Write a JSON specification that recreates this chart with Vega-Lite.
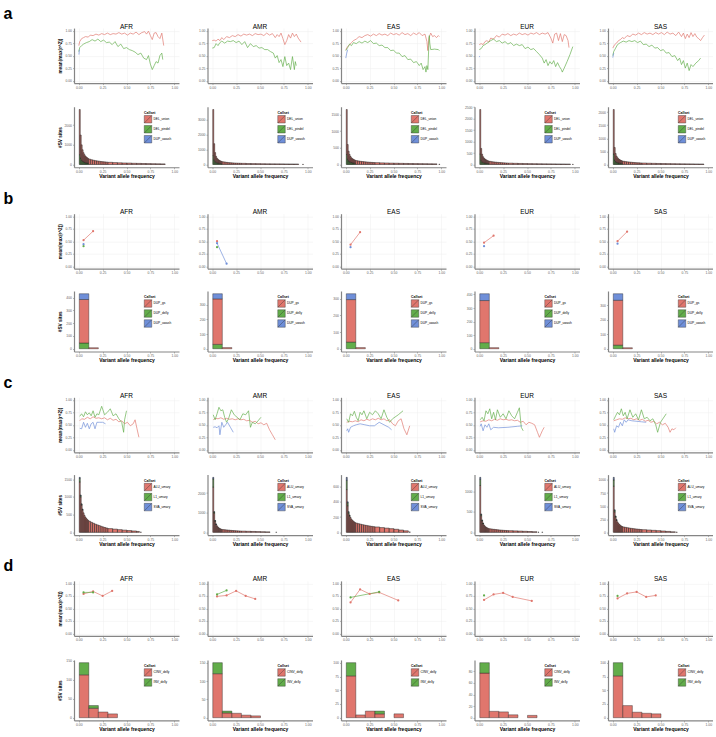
{
"$schema":"https://vega.github.io/schema/vega-lite/v6.json",
"background":"white",
"padding":{"left":3,"top":5.1,"right":0,"bottom":0},
"autosize":{"type":"pad"},
"config":{
"font":"Liberation Sans",
"view":{"stroke":null,"continuousWidth":105,"continuousHeight":55},
"title":{"fontSize":6.5,"fontWeight":"normal","offset":-2,"color":"#000"},
"axis":{"grid":false,"labelFontSize":3.4,"labelColor":"#666","titleFontSize":4.7,"titleFontWeight":"bold","titleColor":"#000","domainColor":"#858585","domainWidth":1.2,"tickColor":"#858585","tickSize":1.5,"tickWidth":0.6,"labelPadding":1,"gridColor":"#EEEEEE","gridWidth":0.5,"labelFlush":false,"labelOverlap":false},
"axisX":{"labelPadding":0.5,"titlePadding":0,"titleFontSize":5,"minExtent":6,"maxExtent":6},
"axisY":{"titlePadding":1.35,"minExtent":10.5,"maxExtent":10.5},
"legend":{"orient":"none","legendX":70,"legendY":4,"titleFontSize":3.5,"titleFontWeight":"bold","titleColor":"#000","labelFontSize":3.2,"labelColor":"#000","symbolSize":56,"symbolType":"M-1,-1H1V1H-1Z M-1,1L1,-1","symbolStrokeWidth":0.4,"symbolStrokeColor":"#333","rowPadding":0,"padding":0,"titlePadding":1,"labelOffset":1.5,"symbolOpacity":1},
"bar":{"binSpacing":0,"stroke":"#222","strokeWidth":0.4},
"line":{"strokeWidth":0.8,"opacity":0.85},
"point":{"filled":true,"size":5},
"range":{"category":["#E0766D","#62AD4A","#6F8FD9"]}
},
"datasets":{
"aAFRl":[
{"c":"DEL_union","x":0,"y":0.7},{"c":"DEL_union","x":0.01,"y":0.78},{"c":"DEL_union","x":0.03,"y":0.84},{"c":"DEL_union","x":0.05,"y":0.86},{"c":"DEL_union","x":0.07,"y":0.88},{"c":"DEL_union","x":0.1,"y":0.87},{"c":"DEL_union","x":0.12,"y":0.91},{"c":"DEL_union","x":0.15,"y":0.9},{"c":"DEL_union","x":0.18,"y":0.93},{"c":"DEL_union","x":0.21,"y":0.91},{"c":"DEL_union","x":0.24,"y":0.94},{"c":"DEL_union","x":0.27,"y":0.92},{"c":"DEL_union","x":0.3,"y":0.95},{"c":"DEL_union","x":0.33,"y":0.92},{"c":"DEL_union","x":0.36,"y":0.94},{"c":"DEL_union","x":0.39,"y":0.93},{"c":"DEL_union","x":0.42,"y":0.96},{"c":"DEL_union","x":0.45,"y":0.93},{"c":"DEL_union","x":0.48,"y":0.95},{"c":"DEL_union","x":0.51,"y":0.91},{"c":"DEL_union","x":0.54,"y":0.95},{"c":"DEL_union","x":0.57,"y":0.93},{"c":"DEL_union","x":0.6,"y":0.97},{"c":"DEL_union","x":0.63,"y":0.92},{"c":"DEL_union","x":0.66,"y":0.96},{"c":"DEL_union","x":0.69,"y":0.98},{"c":"DEL_union","x":0.71,"y":0.93},{"c":"DEL_union","x":0.73,"y":0.99},{"c":"DEL_union","x":0.75,"y":0.9},{"c":"DEL_union","x":0.77,"y":0.82},{"c":"DEL_union","x":0.79,"y":0.95},{"c":"DEL_union","x":0.81,"y":0.96},{"c":"DEL_union","x":0.83,"y":0.88},{"c":"DEL_union","x":0.85,"y":0.84},{"c":"DEL_union","x":0.87,"y":0.95},{"c":"DEL_union","x":0.89,"y":0.7},
{"c":"DEL_pindel","x":0,"y":0.58},{"c":"DEL_pindel","x":0.01,"y":0.66},{"c":"DEL_pindel","x":0.03,"y":0.7},{"c":"DEL_pindel","x":0.05,"y":0.73},{"c":"DEL_pindel","x":0.08,"y":0.76},{"c":"DEL_pindel","x":0.11,"y":0.78},{"c":"DEL_pindel","x":0.14,"y":0.82},{"c":"DEL_pindel","x":0.17,"y":0.79},{"c":"DEL_pindel","x":0.2,"y":0.83},{"c":"DEL_pindel","x":0.23,"y":0.78},{"c":"DEL_pindel","x":0.26,"y":0.81},{"c":"DEL_pindel","x":0.29,"y":0.76},{"c":"DEL_pindel","x":0.32,"y":0.77},{"c":"DEL_pindel","x":0.35,"y":0.72},{"c":"DEL_pindel","x":0.38,"y":0.78},{"c":"DEL_pindel","x":0.41,"y":0.68},{"c":"DEL_pindel","x":0.44,"y":0.73},{"c":"DEL_pindel","x":0.47,"y":0.64},{"c":"DEL_pindel","x":0.5,"y":0.66},{"c":"DEL_pindel","x":0.53,"y":0.62},{"c":"DEL_pindel","x":0.56,"y":0.6},{"c":"DEL_pindel","x":0.59,"y":0.57},{"c":"DEL_pindel","x":0.62,"y":0.52},{"c":"DEL_pindel","x":0.65,"y":0.55},{"c":"DEL_pindel","x":0.68,"y":0.45},{"c":"DEL_pindel","x":0.71,"y":0.42},{"c":"DEL_pindel","x":0.73,"y":0.5},{"c":"DEL_pindel","x":0.75,"y":0.33},{"c":"DEL_pindel","x":0.77,"y":0.22},{"c":"DEL_pindel","x":0.79,"y":0.3},{"c":"DEL_pindel","x":0.81,"y":0.38},{"c":"DEL_pindel","x":0.83,"y":0.35},{"c":"DEL_pindel","x":0.85,"y":0.5},{"c":"DEL_pindel","x":0.87,"y":0.55},{"c":"DEL_pindel","x":0.88,"y":0.42},
{"c":"DUP_uwash","x":0.002,"y":0.52},{"c":"DUP_uwash","x":0.006,"y":0.62}],
"aAMRl":[
{"c":"DEL_union","x":0,"y":0.8},{"c":"DEL_union","x":0.02,"y":0.81},{"c":"DEL_union","x":0.04,"y":0.79},{"c":"DEL_union","x":0.06,"y":0.83},{"c":"DEL_union","x":0.08,"y":0.8},{"c":"DEL_union","x":0.1,"y":0.86},{"c":"DEL_union","x":0.12,"y":0.82},{"c":"DEL_union","x":0.15,"y":0.88},{"c":"DEL_union","x":0.18,"y":0.86},{"c":"DEL_union","x":0.21,"y":0.9},{"c":"DEL_union","x":0.24,"y":0.88},{"c":"DEL_union","x":0.27,"y":0.92},{"c":"DEL_union","x":0.3,"y":0.89},{"c":"DEL_union","x":0.33,"y":0.93},{"c":"DEL_union","x":0.36,"y":0.91},{"c":"DEL_union","x":0.39,"y":0.93},{"c":"DEL_union","x":0.42,"y":0.9},{"c":"DEL_union","x":0.45,"y":0.94},{"c":"DEL_union","x":0.48,"y":0.92},{"c":"DEL_union","x":0.51,"y":0.93},{"c":"DEL_union","x":0.54,"y":0.9},{"c":"DEL_union","x":0.57,"y":0.95},{"c":"DEL_union","x":0.6,"y":0.91},{"c":"DEL_union","x":0.63,"y":0.94},{"c":"DEL_union","x":0.66,"y":0.86},{"c":"DEL_union","x":0.68,"y":0.92},{"c":"DEL_union","x":0.7,"y":0.88},{"c":"DEL_union","x":0.72,"y":0.95},{"c":"DEL_union","x":0.74,"y":0.84},{"c":"DEL_union","x":0.76,"y":0.72},{"c":"DEL_union","x":0.78,"y":0.8},{"c":"DEL_union","x":0.8,"y":0.92},{"c":"DEL_union","x":0.82,"y":0.85},{"c":"DEL_union","x":0.84,"y":0.95},{"c":"DEL_union","x":0.86,"y":0.88},{"c":"DEL_union","x":0.88,"y":0.93},{"c":"DEL_union","x":0.9,"y":0.85},{"c":"DEL_union","x":0.93,"y":0.77},
{"c":"DEL_pindel","x":0,"y":0.65},{"c":"DEL_pindel","x":0.02,"y":0.66},{"c":"DEL_pindel","x":0.04,"y":0.74},{"c":"DEL_pindel","x":0.06,"y":0.7},{"c":"DEL_pindel","x":0.08,"y":0.76},{"c":"DEL_pindel","x":0.1,"y":0.79},{"c":"DEL_pindel","x":0.13,"y":0.75},{"c":"DEL_pindel","x":0.16,"y":0.79},{"c":"DEL_pindel","x":0.19,"y":0.78},{"c":"DEL_pindel","x":0.22,"y":0.8},{"c":"DEL_pindel","x":0.25,"y":0.76},{"c":"DEL_pindel","x":0.28,"y":0.79},{"c":"DEL_pindel","x":0.31,"y":0.72},{"c":"DEL_pindel","x":0.34,"y":0.78},{"c":"DEL_pindel","x":0.37,"y":0.66},{"c":"DEL_pindel","x":0.4,"y":0.74},{"c":"DEL_pindel","x":0.43,"y":0.68},{"c":"DEL_pindel","x":0.46,"y":0.7},{"c":"DEL_pindel","x":0.49,"y":0.65},{"c":"DEL_pindel","x":0.52,"y":0.66},{"c":"DEL_pindel","x":0.55,"y":0.62},{"c":"DEL_pindel","x":0.58,"y":0.62},{"c":"DEL_pindel","x":0.61,"y":0.58},{"c":"DEL_pindel","x":0.64,"y":0.55},{"c":"DEL_pindel","x":0.66,"y":0.45},{"c":"DEL_pindel","x":0.68,"y":0.5},{"c":"DEL_pindel","x":0.7,"y":0.36},{"c":"DEL_pindel","x":0.72,"y":0.42},{"c":"DEL_pindel","x":0.74,"y":0.28},{"c":"DEL_pindel","x":0.76,"y":0.48},{"c":"DEL_pindel","x":0.78,"y":0.3},{"c":"DEL_pindel","x":0.8,"y":0.35},{"c":"DEL_pindel","x":0.82,"y":0.22},{"c":"DEL_pindel","x":0.84,"y":0.48},{"c":"DEL_pindel","x":0.86,"y":0.22},{"c":"DEL_pindel","x":0.87,"y":0.38},{"c":"DEL_pindel","x":0.88,"y":0.3}],
"aEASl":[
{"c":"DEL_union","x":0,"y":0.62},{"c":"DEL_union","x":0.02,"y":0.68},{"c":"DEL_union","x":0.04,"y":0.72},{"c":"DEL_union","x":0.06,"y":0.76},{"c":"DEL_union","x":0.08,"y":0.8},{"c":"DEL_union","x":0.11,"y":0.83},{"c":"DEL_union","x":0.14,"y":0.88},{"c":"DEL_union","x":0.17,"y":0.86},{"c":"DEL_union","x":0.2,"y":0.9},{"c":"DEL_union","x":0.23,"y":0.92},{"c":"DEL_union","x":0.26,"y":0.89},{"c":"DEL_union","x":0.29,"y":0.93},{"c":"DEL_union","x":0.32,"y":0.9},{"c":"DEL_union","x":0.35,"y":0.94},{"c":"DEL_union","x":0.38,"y":0.91},{"c":"DEL_union","x":0.41,"y":0.93},{"c":"DEL_union","x":0.44,"y":0.9},{"c":"DEL_union","x":0.47,"y":0.95},{"c":"DEL_union","x":0.5,"y":0.92},{"c":"DEL_union","x":0.53,"y":0.94},{"c":"DEL_union","x":0.56,"y":0.91},{"c":"DEL_union","x":0.59,"y":0.96},{"c":"DEL_union","x":0.62,"y":0.92},{"c":"DEL_union","x":0.65,"y":0.94},{"c":"DEL_union","x":0.68,"y":0.9},{"c":"DEL_union","x":0.71,"y":0.95},{"c":"DEL_union","x":0.74,"y":0.92},{"c":"DEL_union","x":0.77,"y":0.96},{"c":"DEL_union","x":0.8,"y":0.9},{"c":"DEL_union","x":0.83,"y":0.93},{"c":"DEL_union","x":0.85,"y":0.78},{"c":"DEL_union","x":0.86,"y":0.6},{"c":"DEL_union","x":0.87,"y":0.85},{"c":"DEL_union","x":0.89,"y":0.95},{"c":"DEL_union","x":0.91,"y":0.88},{"c":"DEL_union","x":0.93,"y":0.9},{"c":"DEL_union","x":0.95,"y":0.86},{"c":"DEL_union","x":0.97,"y":0.9},{"c":"DEL_union","x":0.98,"y":0.88},
{"c":"DEL_pindel","x":0,"y":0.6},{"c":"DEL_pindel","x":0.02,"y":0.66},{"c":"DEL_pindel","x":0.04,"y":0.73},{"c":"DEL_pindel","x":0.06,"y":0.7},{"c":"DEL_pindel","x":0.08,"y":0.76},{"c":"DEL_pindel","x":0.11,"y":0.74},{"c":"DEL_pindel","x":0.14,"y":0.78},{"c":"DEL_pindel","x":0.17,"y":0.75},{"c":"DEL_pindel","x":0.2,"y":0.79},{"c":"DEL_pindel","x":0.23,"y":0.76},{"c":"DEL_pindel","x":0.26,"y":0.8},{"c":"DEL_pindel","x":0.29,"y":0.74},{"c":"DEL_pindel","x":0.32,"y":0.75},{"c":"DEL_pindel","x":0.35,"y":0.7},{"c":"DEL_pindel","x":0.38,"y":0.71},{"c":"DEL_pindel","x":0.41,"y":0.66},{"c":"DEL_pindel","x":0.44,"y":0.66},{"c":"DEL_pindel","x":0.47,"y":0.6},{"c":"DEL_pindel","x":0.5,"y":0.61},{"c":"DEL_pindel","x":0.53,"y":0.55},{"c":"DEL_pindel","x":0.56,"y":0.55},{"c":"DEL_pindel","x":0.59,"y":0.48},{"c":"DEL_pindel","x":0.62,"y":0.5},{"c":"DEL_pindel","x":0.65,"y":0.42},{"c":"DEL_pindel","x":0.68,"y":0.43},{"c":"DEL_pindel","x":0.71,"y":0.36},{"c":"DEL_pindel","x":0.74,"y":0.38},{"c":"DEL_pindel","x":0.77,"y":0.3},{"c":"DEL_pindel","x":0.79,"y":0.35},{"c":"DEL_pindel","x":0.81,"y":0.22},{"c":"DEL_pindel","x":0.83,"y":0.28},{"c":"DEL_pindel","x":0.84,"y":0.17},{"c":"DEL_pindel","x":0.85,"y":0.3},{"c":"DEL_pindel","x":0.86,"y":0.22},{"c":"DEL_pindel","x":0.87,"y":0.7},{"c":"DEL_pindel","x":0.875,"y":0.9},{"c":"DEL_pindel","x":0.88,"y":0.75},{"c":"DEL_pindel","x":0.89,"y":0.62},{"c":"DEL_pindel","x":0.93,"y":0.63},{"c":"DEL_pindel","x":0.97,"y":0.62},{"c":"DEL_pindel","x":0.98,"y":0.6},
{"c":"DUP_uwash","x":0,"y":0.45},{"c":"DUP_uwash","x":0.01,"y":0.55},{"c":"DUP_uwash","x":0.02,"y":0.62}],
"aEURl":[
{"c":"DEL_union","x":0,"y":0.72},{"c":"DEL_union","x":0.02,"y":0.74},{"c":"DEL_union","x":0.04,"y":0.72},{"c":"DEL_union","x":0.06,"y":0.78},{"c":"DEL_union","x":0.08,"y":0.8},{"c":"DEL_union","x":0.1,"y":0.77},{"c":"DEL_union","x":0.12,"y":0.85},{"c":"DEL_union","x":0.15,"y":0.83},{"c":"DEL_union","x":0.18,"y":0.9},{"c":"DEL_union","x":0.21,"y":0.87},{"c":"DEL_union","x":0.24,"y":0.93},{"c":"DEL_union","x":0.27,"y":0.91},{"c":"DEL_union","x":0.3,"y":0.94},{"c":"DEL_union","x":0.33,"y":0.9},{"c":"DEL_union","x":0.36,"y":0.93},{"c":"DEL_union","x":0.39,"y":0.91},{"c":"DEL_union","x":0.42,"y":0.95},{"c":"DEL_union","x":0.45,"y":0.92},{"c":"DEL_union","x":0.48,"y":0.94},{"c":"DEL_union","x":0.51,"y":0.91},{"c":"DEL_union","x":0.54,"y":0.95},{"c":"DEL_union","x":0.57,"y":0.93},{"c":"DEL_union","x":0.6,"y":0.96},{"c":"DEL_union","x":0.63,"y":0.92},{"c":"DEL_union","x":0.66,"y":0.95},{"c":"DEL_union","x":0.69,"y":0.93},{"c":"DEL_union","x":0.72,"y":0.96},{"c":"DEL_union","x":0.75,"y":0.85},{"c":"DEL_union","x":0.77,"y":0.75},{"c":"DEL_union","x":0.79,"y":0.93},{"c":"DEL_union","x":0.81,"y":0.95},{"c":"DEL_union","x":0.83,"y":0.8},{"c":"DEL_union","x":0.85,"y":0.94},{"c":"DEL_union","x":0.87,"y":0.78},{"c":"DEL_union","x":0.89,"y":0.92},{"c":"DEL_union","x":0.91,"y":0.9},{"c":"DEL_union","x":0.93,"y":0.8},{"c":"DEL_union","x":0.94,"y":0.66},
{"c":"DEL_pindel","x":0,"y":0.62},{"c":"DEL_pindel","x":0.02,"y":0.64},{"c":"DEL_pindel","x":0.04,"y":0.7},{"c":"DEL_pindel","x":0.06,"y":0.72},{"c":"DEL_pindel","x":0.09,"y":0.76},{"c":"DEL_pindel","x":0.12,"y":0.8},{"c":"DEL_pindel","x":0.15,"y":0.83},{"c":"DEL_pindel","x":0.18,"y":0.78},{"c":"DEL_pindel","x":0.21,"y":0.8},{"c":"DEL_pindel","x":0.24,"y":0.75},{"c":"DEL_pindel","x":0.27,"y":0.78},{"c":"DEL_pindel","x":0.3,"y":0.73},{"c":"DEL_pindel","x":0.33,"y":0.76},{"c":"DEL_pindel","x":0.36,"y":0.7},{"c":"DEL_pindel","x":0.39,"y":0.73},{"c":"DEL_pindel","x":0.42,"y":0.7},{"c":"DEL_pindel","x":0.45,"y":0.72},{"c":"DEL_pindel","x":0.48,"y":0.64},{"c":"DEL_pindel","x":0.51,"y":0.67},{"c":"DEL_pindel","x":0.54,"y":0.62},{"c":"DEL_pindel","x":0.57,"y":0.64},{"c":"DEL_pindel","x":0.6,"y":0.58},{"c":"DEL_pindel","x":0.63,"y":0.52},{"c":"DEL_pindel","x":0.66,"y":0.45},{"c":"DEL_pindel","x":0.68,"y":0.35},{"c":"DEL_pindel","x":0.7,"y":0.42},{"c":"DEL_pindel","x":0.72,"y":0.3},{"c":"DEL_pindel","x":0.74,"y":0.38},{"c":"DEL_pindel","x":0.76,"y":0.33},{"c":"DEL_pindel","x":0.78,"y":0.4},{"c":"DEL_pindel","x":0.8,"y":0.28},{"c":"DEL_pindel","x":0.82,"y":0.36},{"c":"DEL_pindel","x":0.84,"y":0.28},{"c":"DEL_pindel","x":0.86,"y":0.22},{"c":"DEL_pindel","x":0.87,"y":0.17},{"c":"DEL_pindel","x":0.89,"y":0.25},{"c":"DEL_pindel","x":0.92,"y":0.38},{"c":"DEL_pindel","x":0.95,"y":0.52},{"c":"DEL_pindel","x":0.98,"y":0.68},
{"c":"DUP_uwash","x":0,"y":0.47},{"c":"DUP_uwash","x":0.005,"y":0.49}],
"aSASl":[
{"c":"DEL_union","x":0,"y":0.65},{"c":"DEL_union","x":0.02,"y":0.72},{"c":"DEL_union","x":0.04,"y":0.75},{"c":"DEL_union","x":0.06,"y":0.8},{"c":"DEL_union","x":0.08,"y":0.82},{"c":"DEL_union","x":0.1,"y":0.86},{"c":"DEL_union","x":0.12,"y":0.84},{"c":"DEL_union","x":0.15,"y":0.9},{"c":"DEL_union","x":0.18,"y":0.88},{"c":"DEL_union","x":0.21,"y":0.93},{"c":"DEL_union","x":0.24,"y":0.91},{"c":"DEL_union","x":0.27,"y":0.95},{"c":"DEL_union","x":0.3,"y":0.92},{"c":"DEL_union","x":0.33,"y":0.96},{"c":"DEL_union","x":0.36,"y":0.93},{"c":"DEL_union","x":0.39,"y":0.95},{"c":"DEL_union","x":0.42,"y":0.92},{"c":"DEL_union","x":0.45,"y":0.96},{"c":"DEL_union","x":0.48,"y":0.93},{"c":"DEL_union","x":0.51,"y":0.96},{"c":"DEL_union","x":0.54,"y":0.92},{"c":"DEL_union","x":0.57,"y":0.97},{"c":"DEL_union","x":0.6,"y":0.93},{"c":"DEL_union","x":0.63,"y":0.95},{"c":"DEL_union","x":0.66,"y":0.9},{"c":"DEL_union","x":0.69,"y":0.97},{"c":"DEL_union","x":0.72,"y":0.88},{"c":"DEL_union","x":0.74,"y":0.95},{"c":"DEL_union","x":0.76,"y":0.84},{"c":"DEL_union","x":0.78,"y":0.93},{"c":"DEL_union","x":0.8,"y":0.86},{"c":"DEL_union","x":0.82,"y":0.96},{"c":"DEL_union","x":0.84,"y":0.88},{"c":"DEL_union","x":0.86,"y":0.94},{"c":"DEL_union","x":0.88,"y":0.87},{"c":"DEL_union","x":0.9,"y":0.84},{"c":"DEL_union","x":0.92,"y":0.8},{"c":"DEL_union","x":0.94,"y":0.86},{"c":"DEL_union","x":0.96,"y":0.91},
{"c":"DEL_pindel","x":0,"y":0.5},{"c":"DEL_pindel","x":0.01,"y":0.58},{"c":"DEL_pindel","x":0.03,"y":0.65},{"c":"DEL_pindel","x":0.05,"y":0.72},{"c":"DEL_pindel","x":0.08,"y":0.76},{"c":"DEL_pindel","x":0.11,"y":0.79},{"c":"DEL_pindel","x":0.14,"y":0.77},{"c":"DEL_pindel","x":0.17,"y":0.8},{"c":"DEL_pindel","x":0.2,"y":0.78},{"c":"DEL_pindel","x":0.23,"y":0.8},{"c":"DEL_pindel","x":0.26,"y":0.76},{"c":"DEL_pindel","x":0.29,"y":0.79},{"c":"DEL_pindel","x":0.32,"y":0.72},{"c":"DEL_pindel","x":0.35,"y":0.73},{"c":"DEL_pindel","x":0.38,"y":0.68},{"c":"DEL_pindel","x":0.41,"y":0.71},{"c":"DEL_pindel","x":0.44,"y":0.65},{"c":"DEL_pindel","x":0.47,"y":0.66},{"c":"DEL_pindel","x":0.5,"y":0.6},{"c":"DEL_pindel","x":0.53,"y":0.62},{"c":"DEL_pindel","x":0.56,"y":0.55},{"c":"DEL_pindel","x":0.59,"y":0.56},{"c":"DEL_pindel","x":0.62,"y":0.48},{"c":"DEL_pindel","x":0.65,"y":0.5},{"c":"DEL_pindel","x":0.68,"y":0.4},{"c":"DEL_pindel","x":0.7,"y":0.45},{"c":"DEL_pindel","x":0.72,"y":0.32},{"c":"DEL_pindel","x":0.74,"y":0.4},{"c":"DEL_pindel","x":0.76,"y":0.25},{"c":"DEL_pindel","x":0.78,"y":0.35},{"c":"DEL_pindel","x":0.8,"y":0.2},{"c":"DEL_pindel","x":0.82,"y":0.32},{"c":"DEL_pindel","x":0.84,"y":0.28},{"c":"DEL_pindel","x":0.87,"y":0.35},{"c":"DEL_pindel","x":0.9,"y":0.4},{"c":"DEL_pindel","x":0.92,"y":0.45},
{"c":"DUP_uwash","x":0,"y":0.46},{"c":"DUP_uwash","x":0.01,"y":0.55}],
"aAFRh":[
{"c":"DEL_pindel","x":0,"x2":0.01,"n":500},{"c":"DEL_pindel","x":0.01,"x2":0.02,"n":330},{"c":"DEL_pindel","x":0.02,"x2":0.03,"n":220},{"c":"DEL_pindel","x":0.03,"x2":0.04,"n":170},{"c":"DEL_pindel","x":0.04,"x2":0.05,"n":140},{"c":"DEL_pindel","x":0.05,"x2":0.06,"n":110},{"c":"DEL_pindel","x":0.06,"x2":0.07,"n":90},{"c":"DEL_pindel","x":0.07,"x2":0.08,"n":80},{"c":"DEL_pindel","x":0.08,"x2":0.09,"n":70},{"c":"DEL_pindel","x":0.09,"x2":0.1,"n":60},
{"c":"DEL_union","x":0,"x2":0.01,"n":2300},{"c":"DEL_union","x":0.01,"x2":0.02,"n":1170},{"c":"DEL_union","x":0.02,"x2":0.03,"n":780},{"c":"DEL_union","x":0.03,"x2":0.04,"n":580},{"c":"DEL_union","x":0.04,"x2":0.05,"n":460},{"c":"DEL_union","x":0.05,"x2":0.06,"n":390},{"c":"DEL_union","x":0.06,"x2":0.07,"n":340},{"c":"DEL_union","x":0.07,"x2":0.08,"n":300},{"c":"DEL_union","x":0.08,"x2":0.09,"n":270},{"c":"DEL_union","x":0.09,"x2":0.1,"n":240},
{"c":"DEL_union","x":0.1,"x2":0.12,"n":270},{"c":"DEL_union","x":0.12,"x2":0.14,"n":240},{"c":"DEL_union","x":0.14,"x2":0.16,"n":215},{"c":"DEL_union","x":0.16,"x2":0.18,"n":195},{"c":"DEL_union","x":0.18,"x2":0.2,"n":180},{"c":"DEL_union","x":0.2,"x2":0.22,"n":165},{"c":"DEL_union","x":0.22,"x2":0.24,"n":150},{"c":"DEL_union","x":0.24,"x2":0.26,"n":140},{"c":"DEL_union","x":0.26,"x2":0.28,"n":130},{"c":"DEL_union","x":0.28,"x2":0.3,"n":120},
{"c":"DEL_union","x":0.3,"x2":0.35,"n":110},{"c":"DEL_union","x":0.35,"x2":0.4,"n":95},{"c":"DEL_union","x":0.4,"x2":0.45,"n":85},{"c":"DEL_union","x":0.45,"x2":0.5,"n":75},{"c":"DEL_union","x":0.5,"x2":0.55,"n":70},{"c":"DEL_union","x":0.55,"x2":0.6,"n":60},{"c":"DEL_union","x":0.6,"x2":0.65,"n":55},{"c":"DEL_union","x":0.65,"x2":0.7,"n":50},{"c":"DEL_union","x":0.7,"x2":0.75,"n":45},{"c":"DEL_union","x":0.75,"x2":0.8,"n":40},{"c":"DEL_union","x":0.8,"x2":0.85,"n":35},{"c":"DEL_union","x":0.85,"x2":0.9,"n":30}],
"aAMRh":[
{"c":"DEL_pindel","x":0,"x2":0.01,"n":600},{"c":"DEL_pindel","x":0.01,"x2":0.02,"n":300},{"c":"DEL_pindel","x":0.02,"x2":0.03,"n":200},{"c":"DEL_pindel","x":0.03,"x2":0.04,"n":150},{"c":"DEL_pindel","x":0.04,"x2":0.05,"n":120},{"c":"DEL_pindel","x":0.05,"x2":0.06,"n":100},{"c":"DEL_pindel","x":0.06,"x2":0.07,"n":80},{"c":"DEL_pindel","x":0.07,"x2":0.08,"n":70},{"c":"DEL_pindel","x":0.08,"x2":0.09,"n":60},{"c":"DEL_pindel","x":0.09,"x2":0.1,"n":50},
{"c":"DEL_union","x":0,"x2":0.01,"n":3100},{"c":"DEL_union","x":0.01,"x2":0.02,"n":1100},{"c":"DEL_union","x":0.02,"x2":0.03,"n":600},{"c":"DEL_union","x":0.03,"x2":0.04,"n":400},{"c":"DEL_union","x":0.04,"x2":0.05,"n":300},{"c":"DEL_union","x":0.05,"x2":0.06,"n":250},{"c":"DEL_union","x":0.06,"x2":0.07,"n":220},{"c":"DEL_union","x":0.07,"x2":0.08,"n":190},{"c":"DEL_union","x":0.08,"x2":0.09,"n":170},{"c":"DEL_union","x":0.09,"x2":0.1,"n":150},
{"c":"DEL_union","x":0.1,"x2":0.12,"n":180},{"c":"DEL_union","x":0.12,"x2":0.14,"n":160},{"c":"DEL_union","x":0.14,"x2":0.16,"n":140},{"c":"DEL_union","x":0.16,"x2":0.18,"n":125},{"c":"DEL_union","x":0.18,"x2":0.2,"n":115},{"c":"DEL_union","x":0.2,"x2":0.22,"n":105},{"c":"DEL_union","x":0.22,"x2":0.24,"n":95},{"c":"DEL_union","x":0.24,"x2":0.26,"n":90},{"c":"DEL_union","x":0.26,"x2":0.28,"n":85},{"c":"DEL_union","x":0.28,"x2":0.3,"n":80},
{"c":"DEL_union","x":0.3,"x2":0.35,"n":75},{"c":"DEL_union","x":0.35,"x2":0.4,"n":65},{"c":"DEL_union","x":0.4,"x2":0.45,"n":60},{"c":"DEL_union","x":0.45,"x2":0.5,"n":55},{"c":"DEL_union","x":0.5,"x2":0.55,"n":50},{"c":"DEL_union","x":0.55,"x2":0.6,"n":45},{"c":"DEL_union","x":0.6,"x2":0.65,"n":42},{"c":"DEL_union","x":0.65,"x2":0.7,"n":40},{"c":"DEL_union","x":0.7,"x2":0.75,"n":38},{"c":"DEL_union","x":0.75,"x2":0.8,"n":35},{"c":"DEL_union","x":0.8,"x2":0.85,"n":32},{"c":"DEL_union","x":0.85,"x2":0.9,"n":30},{"c":"DEL_union","x":0.94,"x2":0.95,"n":10}],
"aEASh":[
{"c":"DEL_pindel","x":0,"x2":0.01,"n":300},{"c":"DEL_pindel","x":0.01,"x2":0.02,"n":160},{"c":"DEL_pindel","x":0.02,"x2":0.03,"n":110},{"c":"DEL_pindel","x":0.03,"x2":0.04,"n":85},{"c":"DEL_pindel","x":0.04,"x2":0.05,"n":70},{"c":"DEL_pindel","x":0.05,"x2":0.06,"n":60},{"c":"DEL_pindel","x":0.06,"x2":0.07,"n":50},{"c":"DEL_pindel","x":0.07,"x2":0.08,"n":45},{"c":"DEL_pindel","x":0.08,"x2":0.09,"n":40},{"c":"DEL_pindel","x":0.09,"x2":0.1,"n":35},
{"c":"DEL_union","x":0,"x2":0.01,"n":1350},{"c":"DEL_union","x":0.01,"x2":0.02,"n":440},{"c":"DEL_union","x":0.02,"x2":0.03,"n":290},{"c":"DEL_union","x":0.03,"x2":0.04,"n":215},{"c":"DEL_union","x":0.04,"x2":0.05,"n":170},{"c":"DEL_union","x":0.05,"x2":0.06,"n":140},{"c":"DEL_union","x":0.06,"x2":0.07,"n":125},{"c":"DEL_union","x":0.07,"x2":0.08,"n":110},{"c":"DEL_union","x":0.08,"x2":0.09,"n":100},{"c":"DEL_union","x":0.09,"x2":0.1,"n":90},
{"c":"DEL_union","x":0.1,"x2":0.12,"n":115},{"c":"DEL_union","x":0.12,"x2":0.14,"n":105},{"c":"DEL_union","x":0.14,"x2":0.16,"n":95},{"c":"DEL_union","x":0.16,"x2":0.18,"n":88},{"c":"DEL_union","x":0.18,"x2":0.2,"n":82},{"c":"DEL_union","x":0.2,"x2":0.22,"n":76},{"c":"DEL_union","x":0.22,"x2":0.24,"n":70},{"c":"DEL_union","x":0.24,"x2":0.26,"n":66},{"c":"DEL_union","x":0.26,"x2":0.28,"n":62},{"c":"DEL_union","x":0.28,"x2":0.3,"n":58},
{"c":"DEL_union","x":0.3,"x2":0.35,"n":54},{"c":"DEL_union","x":0.35,"x2":0.4,"n":48},{"c":"DEL_union","x":0.4,"x2":0.45,"n":44},{"c":"DEL_union","x":0.45,"x2":0.5,"n":40},{"c":"DEL_union","x":0.5,"x2":0.55,"n":37},{"c":"DEL_union","x":0.55,"x2":0.6,"n":34},{"c":"DEL_union","x":0.6,"x2":0.65,"n":31},{"c":"DEL_union","x":0.65,"x2":0.7,"n":29},{"c":"DEL_union","x":0.7,"x2":0.75,"n":27},{"c":"DEL_union","x":0.75,"x2":0.8,"n":25},{"c":"DEL_union","x":0.8,"x2":0.85,"n":23},{"c":"DEL_union","x":0.85,"x2":0.9,"n":21},{"c":"DEL_union","x":0.9,"x2":0.95,"n":19},{"c":"DEL_union","x":0.97,"x2":0.98,"n":8}],
"aEURh":[
{"c":"DEL_pindel","x":0,"x2":0.01,"n":450},{"c":"DEL_pindel","x":0.01,"x2":0.02,"n":180},{"c":"DEL_pindel","x":0.02,"x2":0.03,"n":120},{"c":"DEL_pindel","x":0.03,"x2":0.04,"n":95},{"c":"DEL_pindel","x":0.04,"x2":0.05,"n":80},{"c":"DEL_pindel","x":0.05,"x2":0.06,"n":65},{"c":"DEL_pindel","x":0.06,"x2":0.07,"n":55},{"c":"DEL_pindel","x":0.07,"x2":0.08,"n":50},{"c":"DEL_pindel","x":0.08,"x2":0.09,"n":45},{"c":"DEL_pindel","x":0.09,"x2":0.1,"n":40},
{"c":"DEL_union","x":0,"x2":0.01,"n":1950},{"c":"DEL_union","x":0.01,"x2":0.02,"n":520},{"c":"DEL_union","x":0.02,"x2":0.03,"n":330},{"c":"DEL_union","x":0.03,"x2":0.04,"n":245},{"c":"DEL_union","x":0.04,"x2":0.05,"n":200},{"c":"DEL_union","x":0.05,"x2":0.06,"n":175},{"c":"DEL_union","x":0.06,"x2":0.07,"n":155},{"c":"DEL_union","x":0.07,"x2":0.08,"n":135},{"c":"DEL_union","x":0.08,"x2":0.09,"n":120},{"c":"DEL_union","x":0.09,"x2":0.1,"n":110},
{"c":"DEL_union","x":0.1,"x2":0.12,"n":135},{"c":"DEL_union","x":0.12,"x2":0.14,"n":120},{"c":"DEL_union","x":0.14,"x2":0.16,"n":110},{"c":"DEL_union","x":0.16,"x2":0.18,"n":100},{"c":"DEL_union","x":0.18,"x2":0.2,"n":92},{"c":"DEL_union","x":0.2,"x2":0.22,"n":85},{"c":"DEL_union","x":0.22,"x2":0.24,"n":78},{"c":"DEL_union","x":0.24,"x2":0.26,"n":72},{"c":"DEL_union","x":0.26,"x2":0.28,"n":67},{"c":"DEL_union","x":0.28,"x2":0.3,"n":62},
{"c":"DEL_union","x":0.3,"x2":0.35,"n":57},{"c":"DEL_union","x":0.35,"x2":0.4,"n":50},{"c":"DEL_union","x":0.4,"x2":0.45,"n":45},{"c":"DEL_union","x":0.45,"x2":0.5,"n":41},{"c":"DEL_union","x":0.5,"x2":0.55,"n":37},{"c":"DEL_union","x":0.55,"x2":0.6,"n":34},{"c":"DEL_union","x":0.6,"x2":0.65,"n":31},{"c":"DEL_union","x":0.65,"x2":0.7,"n":28},{"c":"DEL_union","x":0.7,"x2":0.75,"n":26},{"c":"DEL_union","x":0.75,"x2":0.8,"n":24},{"c":"DEL_union","x":0.8,"x2":0.85,"n":22},{"c":"DEL_union","x":0.85,"x2":0.9,"n":20},{"c":"DEL_union","x":0.9,"x2":0.95,"n":18},{"c":"DEL_union","x":0.97,"x2":0.98,"n":8}],
"aSASh":[
{"c":"DEL_pindel","x":0,"x2":0.01,"n":400},{"c":"DEL_pindel","x":0.01,"x2":0.02,"n":170},{"c":"DEL_pindel","x":0.02,"x2":0.03,"n":110},{"c":"DEL_pindel","x":0.03,"x2":0.04,"n":85},{"c":"DEL_pindel","x":0.04,"x2":0.05,"n":70},{"c":"DEL_pindel","x":0.05,"x2":0.06,"n":60},{"c":"DEL_pindel","x":0.06,"x2":0.07,"n":50},{"c":"DEL_pindel","x":0.07,"x2":0.08,"n":45},{"c":"DEL_pindel","x":0.08,"x2":0.09,"n":40},{"c":"DEL_pindel","x":0.09,"x2":0.1,"n":35},
{"c":"DEL_union","x":0,"x2":0.01,"n":1700},{"c":"DEL_union","x":0.01,"x2":0.02,"n":480},{"c":"DEL_union","x":0.02,"x2":0.03,"n":310},{"c":"DEL_union","x":0.03,"x2":0.04,"n":235},{"c":"DEL_union","x":0.04,"x2":0.05,"n":190},{"c":"DEL_union","x":0.05,"x2":0.06,"n":160},{"c":"DEL_union","x":0.06,"x2":0.07,"n":140},{"c":"DEL_union","x":0.07,"x2":0.08,"n":125},{"c":"DEL_union","x":0.08,"x2":0.09,"n":110},{"c":"DEL_union","x":0.09,"x2":0.1,"n":100},
{"c":"DEL_union","x":0.1,"x2":0.12,"n":122},{"c":"DEL_union","x":0.12,"x2":0.14,"n":110},{"c":"DEL_union","x":0.14,"x2":0.16,"n":100},{"c":"DEL_union","x":0.16,"x2":0.18,"n":92},{"c":"DEL_union","x":0.18,"x2":0.2,"n":85},{"c":"DEL_union","x":0.2,"x2":0.22,"n":78},{"c":"DEL_union","x":0.22,"x2":0.24,"n":72},{"c":"DEL_union","x":0.24,"x2":0.26,"n":66},{"c":"DEL_union","x":0.26,"x2":0.28,"n":62},{"c":"DEL_union","x":0.28,"x2":0.3,"n":58},
{"c":"DEL_union","x":0.3,"x2":0.35,"n":54},{"c":"DEL_union","x":0.35,"x2":0.4,"n":48},{"c":"DEL_union","x":0.4,"x2":0.45,"n":43},{"c":"DEL_union","x":0.45,"x2":0.5,"n":39},{"c":"DEL_union","x":0.5,"x2":0.55,"n":36},{"c":"DEL_union","x":0.55,"x2":0.6,"n":33},{"c":"DEL_union","x":0.6,"x2":0.65,"n":30},{"c":"DEL_union","x":0.65,"x2":0.7,"n":27},{"c":"DEL_union","x":0.7,"x2":0.75,"n":25},{"c":"DEL_union","x":0.75,"x2":0.8,"n":23},{"c":"DEL_union","x":0.8,"x2":0.85,"n":21},{"c":"DEL_union","x":0.85,"x2":0.9,"n":19},{"c":"DEL_union","x":0.9,"x2":0.95,"n":17}],
"bAFRl":[{"c":"DUP_gs","x":0.05,"y":0.52},{"c":"DUP_gs","x":0.15,"y":0.7},{"c":"DUP_delly","x":0.05,"y":0.4},{"c":"DUP_uwash","x":0.05,"y":0.44}],
"bAMRl":[{"c":"DUP_gs","x":0.05,"y":0.5},{"c":"DUP_delly","x":0.05,"y":0.38},{"c":"DUP_uwash","x":0.05,"y":0.46},{"c":"DUP_uwash","x":0.15,"y":0.05}],
"bEASl":[{"c":"DUP_gs","x":0.05,"y":0.43},{"c":"DUP_gs","x":0.15,"y":0.68},{"c":"DUP_uwash","x":0.05,"y":0.38}],
"bEURl":[{"c":"DUP_gs","x":0.05,"y":0.47},{"c":"DUP_gs","x":0.15,"y":0.61},{"c":"DUP_uwash","x":0.05,"y":0.4}],
"bSASl":[{"c":"DUP_gs","x":0.05,"y":0.5},{"c":"DUP_gs","x":0.15,"y":0.69},{"c":"DUP_uwash","x":0.05,"y":0.45}],
"bAFRh":[{"c":"DUP_delly","x":0,"x2":0.1,"n":45},{"c":"DUP_gs","x":0,"x2":0.1,"n":340},{"c":"DUP_uwash","x":0,"x2":0.1,"n":45},{"c":"DUP_gs","x":0.1,"x2":0.2,"n":8}],
"bAMRh":[{"c":"DUP_delly","x":0,"x2":0.1,"n":30},{"c":"DUP_gs","x":0,"x2":0.1,"n":310},{"c":"DUP_uwash","x":0,"x2":0.1,"n":35},{"c":"DUP_gs","x":0.1,"x2":0.2,"n":8}],
"bEASh":[{"c":"DUP_delly","x":0,"x2":0.1,"n":40},{"c":"DUP_gs","x":0,"x2":0.1,"n":255},{"c":"DUP_uwash","x":0,"x2":0.1,"n":35},{"c":"DUP_gs","x":0.1,"x2":0.2,"n":7}],
"bEURh":[{"c":"DUP_delly","x":0,"x2":0.1,"n":45},{"c":"DUP_gs","x":0,"x2":0.1,"n":310},{"c":"DUP_uwash","x":0,"x2":0.1,"n":50},{"c":"DUP_gs","x":0.1,"x2":0.2,"n":8}],
"bSASh":[{"c":"DUP_delly","x":0,"x2":0.1,"n":25},{"c":"DUP_gs","x":0,"x2":0.1,"n":310},{"c":"DUP_uwash","x":0,"x2":0.1,"n":45},{"c":"DUP_gs","x":0.1,"x2":0.2,"n":7}],
"cAFRl":[
{"c":"ALU_umary","x":0.01,"y":0.58},{"c":"ALU_umary","x":0.03,"y":0.62},{"c":"ALU_umary","x":0.06,"y":0.61},{"c":"ALU_umary","x":0.09,"y":0.65},{"c":"ALU_umary","x":0.12,"y":0.62},{"c":"ALU_umary","x":0.15,"y":0.66},{"c":"ALU_umary","x":0.18,"y":0.63},{"c":"ALU_umary","x":0.21,"y":0.64},{"c":"ALU_umary","x":0.24,"y":0.62},{"c":"ALU_umary","x":0.27,"y":0.64},{"c":"ALU_umary","x":0.3,"y":0.6},{"c":"ALU_umary","x":0.33,"y":0.63},{"c":"ALU_umary","x":0.36,"y":0.59},{"c":"ALU_umary","x":0.39,"y":0.61},{"c":"ALU_umary","x":0.42,"y":0.56},{"c":"ALU_umary","x":0.45,"y":0.58},{"c":"ALU_umary","x":0.48,"y":0.52},{"c":"ALU_umary","x":0.51,"y":0.55},{"c":"ALU_umary","x":0.54,"y":0.48},{"c":"ALU_umary","x":0.57,"y":0.52},{"c":"ALU_umary","x":0.59,"y":0.6},{"c":"ALU_umary","x":0.61,"y":0.42},{"c":"ALU_umary","x":0.63,"y":0.25},
{"c":"L1_umary","x":0.01,"y":0.67},{"c":"L1_umary","x":0.03,"y":0.72},{"c":"L1_umary","x":0.05,"y":0.66},{"c":"L1_umary","x":0.07,"y":0.76},{"c":"L1_umary","x":0.09,"y":0.7},{"c":"L1_umary","x":0.11,"y":0.74},{"c":"L1_umary","x":0.13,"y":0.68},{"c":"L1_umary","x":0.15,"y":0.78},{"c":"L1_umary","x":0.17,"y":0.65},{"c":"L1_umary","x":0.19,"y":0.72},{"c":"L1_umary","x":0.21,"y":0.7},{"c":"L1_umary","x":0.24,"y":0.87},{"c":"L1_umary","x":0.27,"y":0.7},{"c":"L1_umary","x":0.3,"y":0.75},{"c":"L1_umary","x":0.33,"y":0.82},{"c":"L1_umary","x":0.36,"y":0.68},{"c":"L1_umary","x":0.39,"y":0.72},{"c":"L1_umary","x":0.42,"y":0.62},{"c":"L1_umary","x":0.45,"y":0.55},{"c":"L1_umary","x":0.47,"y":0.35},{"c":"L1_umary","x":0.48,"y":0.6},{"c":"L1_umary","x":0.5,"y":0.78},
{"c":"SVA_umary","x":0.01,"y":0.43},{"c":"SVA_umary","x":0.03,"y":0.42},{"c":"SVA_umary","x":0.05,"y":0.55},{"c":"SVA_umary","x":0.07,"y":0.45},{"c":"SVA_umary","x":0.09,"y":0.53},{"c":"SVA_umary","x":0.11,"y":0.42},{"c":"SVA_umary","x":0.13,"y":0.52},{"c":"SVA_umary","x":0.15,"y":0.55},{"c":"SVA_umary","x":0.17,"y":0.42},{"c":"SVA_umary","x":0.19,"y":0.55},{"c":"SVA_umary","x":0.22,"y":0.55},{"c":"SVA_umary","x":0.25,"y":0.55},{"c":"SVA_umary","x":0.28,"y":0.52}],
"cAMRl":[
{"c":"ALU_umary","x":0.01,"y":0.6},{"c":"ALU_umary","x":0.03,"y":0.63},{"c":"ALU_umary","x":0.06,"y":0.62},{"c":"ALU_umary","x":0.09,"y":0.64},{"c":"ALU_umary","x":0.12,"y":0.61},{"c":"ALU_umary","x":0.15,"y":0.63},{"c":"ALU_umary","x":0.18,"y":0.61},{"c":"ALU_umary","x":0.21,"y":0.62},{"c":"ALU_umary","x":0.24,"y":0.6},{"c":"ALU_umary","x":0.27,"y":0.62},{"c":"ALU_umary","x":0.3,"y":0.6},{"c":"ALU_umary","x":0.33,"y":0.61},{"c":"ALU_umary","x":0.36,"y":0.58},{"c":"ALU_umary","x":0.39,"y":0.59},{"c":"ALU_umary","x":0.42,"y":0.55},{"c":"ALU_umary","x":0.45,"y":0.57},{"c":"ALU_umary","x":0.48,"y":0.52},{"c":"ALU_umary","x":0.51,"y":0.54},{"c":"ALU_umary","x":0.54,"y":0.5},{"c":"ALU_umary","x":0.57,"y":0.53},{"c":"ALU_umary","x":0.6,"y":0.4},{"c":"ALU_umary","x":0.63,"y":0.3},{"c":"ALU_umary","x":0.66,"y":0.2},
{"c":"L1_umary","x":0.01,"y":0.7},{"c":"L1_umary","x":0.03,"y":0.6},{"c":"L1_umary","x":0.05,"y":0.72},{"c":"L1_umary","x":0.07,"y":0.85},{"c":"L1_umary","x":0.09,"y":0.78},{"c":"L1_umary","x":0.11,"y":0.8},{"c":"L1_umary","x":0.13,"y":0.65},{"c":"L1_umary","x":0.15,"y":0.55},{"c":"L1_umary","x":0.17,"y":0.62},{"c":"L1_umary","x":0.2,"y":0.8},{"c":"L1_umary","x":0.23,"y":0.7},{"c":"L1_umary","x":0.26,"y":0.65},{"c":"L1_umary","x":0.29,"y":0.6},{"c":"L1_umary","x":0.32,"y":0.72},{"c":"L1_umary","x":0.35,"y":0.7},{"c":"L1_umary","x":0.38,"y":0.78},{"c":"L1_umary","x":0.4,"y":0.45},{"c":"L1_umary","x":0.42,"y":0.55},{"c":"L1_umary","x":0.45,"y":0.52},{"c":"L1_umary","x":0.48,"y":0.58},{"c":"L1_umary","x":0.51,"y":0.65},
{"c":"SVA_umary","x":0.01,"y":0.45},{"c":"SVA_umary","x":0.03,"y":0.46},{"c":"SVA_umary","x":0.05,"y":0.44},{"c":"SVA_umary","x":0.07,"y":0.48},{"c":"SVA_umary","x":0.08,"y":0.3},{"c":"SVA_umary","x":0.1,"y":0.55},{"c":"SVA_umary","x":0.12,"y":0.45},{"c":"SVA_umary","x":0.14,"y":0.5},{"c":"SVA_umary","x":0.16,"y":0.55},{"c":"SVA_umary","x":0.19,"y":0.45},{"c":"SVA_umary","x":0.22,"y":0.35}],
"cEASl":[
{"c":"ALU_umary","x":0.01,"y":0.55},{"c":"ALU_umary","x":0.04,"y":0.57},{"c":"ALU_umary","x":0.07,"y":0.56},{"c":"ALU_umary","x":0.1,"y":0.58},{"c":"ALU_umary","x":0.13,"y":0.56},{"c":"ALU_umary","x":0.16,"y":0.6},{"c":"ALU_umary","x":0.19,"y":0.58},{"c":"ALU_umary","x":0.22,"y":0.61},{"c":"ALU_umary","x":0.25,"y":0.59},{"c":"ALU_umary","x":0.28,"y":0.62},{"c":"ALU_umary","x":0.31,"y":0.6},{"c":"ALU_umary","x":0.34,"y":0.63},{"c":"ALU_umary","x":0.37,"y":0.6},{"c":"ALU_umary","x":0.4,"y":0.62},{"c":"ALU_umary","x":0.43,"y":0.58},{"c":"ALU_umary","x":0.46,"y":0.6},{"c":"ALU_umary","x":0.49,"y":0.52},{"c":"ALU_umary","x":0.52,"y":0.48},{"c":"ALU_umary","x":0.55,"y":0.58},{"c":"ALU_umary","x":0.58,"y":0.62},{"c":"ALU_umary","x":0.61,"y":0.42},{"c":"ALU_umary","x":0.64,"y":0.3},{"c":"ALU_umary","x":0.67,"y":0.48},
{"c":"L1_umary","x":0.01,"y":0.62},{"c":"L1_umary","x":0.03,"y":0.55},{"c":"L1_umary","x":0.05,"y":0.72},{"c":"L1_umary","x":0.07,"y":0.68},{"c":"L1_umary","x":0.09,"y":0.77},{"c":"L1_umary","x":0.11,"y":0.65},{"c":"L1_umary","x":0.13,"y":0.58},{"c":"L1_umary","x":0.15,"y":0.75},{"c":"L1_umary","x":0.17,"y":0.7},{"c":"L1_umary","x":0.19,"y":0.78},{"c":"L1_umary","x":0.22,"y":0.62},{"c":"L1_umary","x":0.25,"y":0.75},{"c":"L1_umary","x":0.28,"y":0.7},{"c":"L1_umary","x":0.31,"y":0.78},{"c":"L1_umary","x":0.34,"y":0.72},{"c":"L1_umary","x":0.37,"y":0.62},{"c":"L1_umary","x":0.4,"y":0.8},{"c":"L1_umary","x":0.43,"y":0.65},{"c":"L1_umary","x":0.46,"y":0.55},{"c":"L1_umary","x":0.49,"y":0.62},{"c":"L1_umary","x":0.55,"y":0.7},{"c":"L1_umary","x":0.6,"y":0.78},
{"c":"SVA_umary","x":0.01,"y":0.38},{"c":"SVA_umary","x":0.02,"y":0.42},{"c":"SVA_umary","x":0.03,"y":0.35},{"c":"SVA_umary","x":0.05,"y":0.45},{"c":"SVA_umary","x":0.08,"y":0.48},{"c":"SVA_umary","x":0.11,"y":0.5},{"c":"SVA_umary","x":0.15,"y":0.52},{"c":"SVA_umary","x":0.2,"y":0.5},{"c":"SVA_umary","x":0.25,"y":0.48},{"c":"SVA_umary","x":0.3,"y":0.48},{"c":"SVA_umary","x":0.35,"y":0.55},{"c":"SVA_umary","x":0.4,"y":0.5},{"c":"SVA_umary","x":0.45,"y":0.45},{"c":"SVA_umary","x":0.48,"y":0.4}],
"cEURl":[
{"c":"ALU_umary","x":0.01,"y":0.56},{"c":"ALU_umary","x":0.04,"y":0.58},{"c":"ALU_umary","x":0.07,"y":0.57},{"c":"ALU_umary","x":0.1,"y":0.6},{"c":"ALU_umary","x":0.13,"y":0.58},{"c":"ALU_umary","x":0.16,"y":0.61},{"c":"ALU_umary","x":0.19,"y":0.59},{"c":"ALU_umary","x":0.22,"y":0.62},{"c":"ALU_umary","x":0.25,"y":0.6},{"c":"ALU_umary","x":0.28,"y":0.61},{"c":"ALU_umary","x":0.31,"y":0.59},{"c":"ALU_umary","x":0.34,"y":0.6},{"c":"ALU_umary","x":0.37,"y":0.58},{"c":"ALU_umary","x":0.4,"y":0.59},{"c":"ALU_umary","x":0.43,"y":0.55},{"c":"ALU_umary","x":0.46,"y":0.57},{"c":"ALU_umary","x":0.49,"y":0.5},{"c":"ALU_umary","x":0.52,"y":0.55},{"c":"ALU_umary","x":0.55,"y":0.53},{"c":"ALU_umary","x":0.58,"y":0.5},{"c":"ALU_umary","x":0.61,"y":0.35},{"c":"ALU_umary","x":0.63,"y":0.25},{"c":"ALU_umary","x":0.66,"y":0.38},{"c":"ALU_umary","x":0.68,"y":0.45},
{"c":"L1_umary","x":0.01,"y":0.6},{"c":"L1_umary","x":0.03,"y":0.65},{"c":"L1_umary","x":0.05,"y":0.58},{"c":"L1_umary","x":0.07,"y":0.78},{"c":"L1_umary","x":0.09,"y":0.72},{"c":"L1_umary","x":0.11,"y":0.82},{"c":"L1_umary","x":0.13,"y":0.62},{"c":"L1_umary","x":0.15,"y":0.75},{"c":"L1_umary","x":0.17,"y":0.6},{"c":"L1_umary","x":0.19,"y":0.8},{"c":"L1_umary","x":0.22,"y":0.65},{"c":"L1_umary","x":0.25,"y":0.72},{"c":"L1_umary","x":0.28,"y":0.62},{"c":"L1_umary","x":0.31,"y":0.78},{"c":"L1_umary","x":0.34,"y":0.68},{"c":"L1_umary","x":0.37,"y":0.62},{"c":"L1_umary","x":0.4,"y":0.75},{"c":"L1_umary","x":0.42,"y":0.84},{"c":"L1_umary","x":0.44,"y":0.45},{"c":"L1_umary","x":0.46,"y":0.38},
{"c":"SVA_umary","x":0.01,"y":0.47},{"c":"SVA_umary","x":0.02,"y":0.52},{"c":"SVA_umary","x":0.04,"y":0.38},{"c":"SVA_umary","x":0.06,"y":0.5},{"c":"SVA_umary","x":0.08,"y":0.45},{"c":"SVA_umary","x":0.1,"y":0.52},{"c":"SVA_umary","x":0.12,"y":0.4},{"c":"SVA_umary","x":0.15,"y":0.45},{"c":"SVA_umary","x":0.2,"y":0.44},{"c":"SVA_umary","x":0.3,"y":0.45},{"c":"SVA_umary","x":0.4,"y":0.47},{"c":"SVA_umary","x":0.45,"y":0.48}],
"cSASl":[
{"c":"ALU_umary","x":0.01,"y":0.58},{"c":"ALU_umary","x":0.04,"y":0.6},{"c":"ALU_umary","x":0.07,"y":0.62},{"c":"ALU_umary","x":0.1,"y":0.61},{"c":"ALU_umary","x":0.13,"y":0.64},{"c":"ALU_umary","x":0.16,"y":0.62},{"c":"ALU_umary","x":0.19,"y":0.63},{"c":"ALU_umary","x":0.22,"y":0.6},{"c":"ALU_umary","x":0.25,"y":0.62},{"c":"ALU_umary","x":0.28,"y":0.59},{"c":"ALU_umary","x":0.31,"y":0.61},{"c":"ALU_umary","x":0.34,"y":0.57},{"c":"ALU_umary","x":0.37,"y":0.59},{"c":"ALU_umary","x":0.4,"y":0.55},{"c":"ALU_umary","x":0.43,"y":0.57},{"c":"ALU_umary","x":0.46,"y":0.52},{"c":"ALU_umary","x":0.49,"y":0.55},{"c":"ALU_umary","x":0.52,"y":0.5},{"c":"ALU_umary","x":0.55,"y":0.53},{"c":"ALU_umary","x":0.58,"y":0.45},{"c":"ALU_umary","x":0.6,"y":0.35},{"c":"ALU_umary","x":0.62,"y":0.42},{"c":"ALU_umary","x":0.64,"y":0.4},{"c":"ALU_umary","x":0.66,"y":0.44},
{"c":"L1_umary","x":0.01,"y":0.6},{"c":"L1_umary","x":0.03,"y":0.68},{"c":"L1_umary","x":0.05,"y":0.75},{"c":"L1_umary","x":0.07,"y":0.7},{"c":"L1_umary","x":0.09,"y":0.82},{"c":"L1_umary","x":0.11,"y":0.68},{"c":"L1_umary","x":0.13,"y":0.75},{"c":"L1_umary","x":0.15,"y":0.62},{"c":"L1_umary","x":0.18,"y":0.8},{"c":"L1_umary","x":0.21,"y":0.65},{"c":"L1_umary","x":0.24,"y":0.72},{"c":"L1_umary","x":0.27,"y":0.6},{"c":"L1_umary","x":0.3,"y":0.8},{"c":"L1_umary","x":0.33,"y":0.62},{"c":"L1_umary","x":0.36,"y":0.65},{"c":"L1_umary","x":0.39,"y":0.58},{"c":"L1_umary","x":0.42,"y":0.62},{"c":"L1_umary","x":0.45,"y":0.5},{"c":"L1_umary","x":0.47,"y":0.35},{"c":"L1_umary","x":0.5,"y":0.55},{"c":"L1_umary","x":0.56,"y":0.72},
{"c":"SVA_umary","x":0.01,"y":0.42},{"c":"SVA_umary","x":0.02,"y":0.35},{"c":"SVA_umary","x":0.04,"y":0.48},{"c":"SVA_umary","x":0.06,"y":0.45},{"c":"SVA_umary","x":0.08,"y":0.55},{"c":"SVA_umary","x":0.1,"y":0.48},{"c":"SVA_umary","x":0.12,"y":0.6},{"c":"SVA_umary","x":0.14,"y":0.55},{"c":"SVA_umary","x":0.16,"y":0.6},{"c":"SVA_umary","x":0.2,"y":0.58},{"c":"SVA_umary","x":0.3,"y":0.56},{"c":"SVA_umary","x":0.35,"y":0.55}],
"cAFRh":[
{"c":"ALU_umary","x":0,"x2":0.01,"n":1420},{"c":"ALU_umary","x":0.01,"x2":0.02,"n":1000},{"c":"ALU_umary","x":0.02,"x2":0.03,"n":770},{"c":"ALU_umary","x":0.03,"x2":0.04,"n":632},{"c":"ALU_umary","x":0.04,"x2":0.05,"n":550},{"c":"ALU_umary","x":0.05,"x2":0.06,"n":480},{"c":"ALU_umary","x":0.06,"x2":0.07,"n":430},{"c":"ALU_umary","x":0.07,"x2":0.08,"n":390},{"c":"ALU_umary","x":0.08,"x2":0.09,"n":360},{"c":"ALU_umary","x":0.09,"x2":0.1,"n":335},
{"c":"ALU_umary","x":0.1,"x2":0.12,"n":310},{"c":"ALU_umary","x":0.12,"x2":0.14,"n":280},{"c":"ALU_umary","x":0.14,"x2":0.16,"n":255},{"c":"ALU_umary","x":0.16,"x2":0.18,"n":230},{"c":"ALU_umary","x":0.18,"x2":0.2,"n":210},{"c":"ALU_umary","x":0.2,"x2":0.22,"n":190},{"c":"ALU_umary","x":0.22,"x2":0.24,"n":170},{"c":"ALU_umary","x":0.24,"x2":0.26,"n":152},{"c":"ALU_umary","x":0.26,"x2":0.28,"n":135},{"c":"ALU_umary","x":0.28,"x2":0.3,"n":120},
{"c":"ALU_umary","x":0.3,"x2":0.35,"n":105},{"c":"ALU_umary","x":0.35,"x2":0.4,"n":90},{"c":"ALU_umary","x":0.4,"x2":0.45,"n":75},{"c":"ALU_umary","x":0.45,"x2":0.5,"n":62},{"c":"ALU_umary","x":0.5,"x2":0.55,"n":50},{"c":"ALU_umary","x":0.55,"x2":0.6,"n":38},{"c":"ALU_umary","x":0.6,"x2":0.63,"n":25},{"c":"ALU_umary","x":0.64,"x2":0.65,"n":8},
{"c":"L1_umary","x":0,"x2":0.01,"n":100},{"c":"L1_umary","x":0.01,"x2":0.02,"n":40},{"c":"L1_umary","x":0.02,"x2":0.03,"n":25},{"c":"L1_umary","x":0.03,"x2":0.04,"n":15},
{"c":"SVA_umary","x":0,"x2":0.01,"n":30},{"c":"SVA_umary","x":0.01,"x2":0.02,"n":10},{"c":"SVA_umary","x":0.02,"x2":0.03,"n":5},{"c":"SVA_umary","x":0.03,"x2":0.04,"n":3}],
"cAMRh":[
{"c":"ALU_umary","x":0,"x2":0.01,"n":2300},{"c":"ALU_umary","x":0.01,"x2":0.02,"n":975},{"c":"ALU_umary","x":0.02,"x2":0.03,"n":562},{"c":"ALU_umary","x":0.03,"x2":0.04,"n":401},{"c":"ALU_umary","x":0.04,"x2":0.05,"n":330},{"c":"ALU_umary","x":0.05,"x2":0.06,"n":270},{"c":"ALU_umary","x":0.06,"x2":0.07,"n":225},{"c":"ALU_umary","x":0.07,"x2":0.08,"n":195},{"c":"ALU_umary","x":0.08,"x2":0.09,"n":170},{"c":"ALU_umary","x":0.09,"x2":0.1,"n":150},
{"c":"ALU_umary","x":0.1,"x2":0.12,"n":140},{"c":"ALU_umary","x":0.12,"x2":0.14,"n":130},{"c":"ALU_umary","x":0.14,"x2":0.16,"n":120},{"c":"ALU_umary","x":0.16,"x2":0.18,"n":110},{"c":"ALU_umary","x":0.18,"x2":0.2,"n":100},{"c":"ALU_umary","x":0.2,"x2":0.22,"n":92},{"c":"ALU_umary","x":0.22,"x2":0.24,"n":85},{"c":"ALU_umary","x":0.24,"x2":0.26,"n":78},{"c":"ALU_umary","x":0.26,"x2":0.28,"n":72},{"c":"ALU_umary","x":0.28,"x2":0.3,"n":66},
{"c":"ALU_umary","x":0.3,"x2":0.35,"n":60},{"c":"ALU_umary","x":0.35,"x2":0.4,"n":52},{"c":"ALU_umary","x":0.4,"x2":0.45,"n":45},{"c":"ALU_umary","x":0.45,"x2":0.5,"n":38},{"c":"ALU_umary","x":0.5,"x2":0.55,"n":30},{"c":"ALU_umary","x":0.55,"x2":0.6,"n":22},{"c":"ALU_umary","x":0.66,"x2":0.67,"n":8},
{"c":"L1_umary","x":0,"x2":0.01,"n":420},{"c":"L1_umary","x":0.01,"x2":0.02,"n":60},{"c":"L1_umary","x":0.02,"x2":0.03,"n":30},{"c":"L1_umary","x":0.03,"x2":0.04,"n":15},
{"c":"SVA_umary","x":0,"x2":0.01,"n":80},{"c":"SVA_umary","x":0.01,"x2":0.02,"n":15},{"c":"SVA_umary","x":0.02,"x2":0.03,"n":8},{"c":"SVA_umary","x":0.03,"x2":0.04,"n":4}],
"cEASh":[
{"c":"ALU_umary","x":0,"x2":0.01,"n":560},{"c":"ALU_umary","x":0.01,"x2":0.02,"n":348},{"c":"ALU_umary","x":0.02,"x2":0.03,"n":244},{"c":"ALU_umary","x":0.03,"x2":0.04,"n":212},{"c":"ALU_umary","x":0.04,"x2":0.05,"n":195},{"c":"ALU_umary","x":0.05,"x2":0.06,"n":172},{"c":"ALU_umary","x":0.06,"x2":0.07,"n":157},{"c":"ALU_umary","x":0.07,"x2":0.08,"n":146},{"c":"ALU_umary","x":0.08,"x2":0.09,"n":136},{"c":"ALU_umary","x":0.09,"x2":0.1,"n":127},
{"c":"ALU_umary","x":0.1,"x2":0.12,"n":120},{"c":"ALU_umary","x":0.12,"x2":0.14,"n":113},{"c":"ALU_umary","x":0.14,"x2":0.16,"n":107},{"c":"ALU_umary","x":0.16,"x2":0.18,"n":101},{"c":"ALU_umary","x":0.18,"x2":0.2,"n":96},{"c":"ALU_umary","x":0.2,"x2":0.22,"n":91},{"c":"ALU_umary","x":0.22,"x2":0.24,"n":86},{"c":"ALU_umary","x":0.24,"x2":0.26,"n":82},{"c":"ALU_umary","x":0.26,"x2":0.28,"n":78},{"c":"ALU_umary","x":0.28,"x2":0.3,"n":74},
{"c":"ALU_umary","x":0.3,"x2":0.35,"n":70},{"c":"ALU_umary","x":0.35,"x2":0.4,"n":62},{"c":"ALU_umary","x":0.4,"x2":0.45,"n":55},{"c":"ALU_umary","x":0.45,"x2":0.5,"n":48},{"c":"ALU_umary","x":0.5,"x2":0.55,"n":40},{"c":"ALU_umary","x":0.55,"x2":0.6,"n":30},{"c":"ALU_umary","x":0.6,"x2":0.65,"n":20},{"c":"ALU_umary","x":0.66,"x2":0.67,"n":6},
{"c":"L1_umary","x":0,"x2":0.01,"n":120},{"c":"L1_umary","x":0.01,"x2":0.02,"n":40},{"c":"L1_umary","x":0.02,"x2":0.03,"n":20},{"c":"L1_umary","x":0.03,"x2":0.04,"n":10},
{"c":"SVA_umary","x":0,"x2":0.01,"n":40},{"c":"SVA_umary","x":0.01,"x2":0.02,"n":12},{"c":"SVA_umary","x":0.02,"x2":0.03,"n":6},{"c":"SVA_umary","x":0.03,"x2":0.04,"n":3}],
"cEURh":[
{"c":"ALU_umary","x":0,"x2":0.01,"n":1150},{"c":"ALU_umary","x":0.01,"x2":0.02,"n":410},{"c":"ALU_umary","x":0.02,"x2":0.03,"n":280},{"c":"ALU_umary","x":0.03,"x2":0.04,"n":214},{"c":"ALU_umary","x":0.04,"x2":0.05,"n":180},{"c":"ALU_umary","x":0.05,"x2":0.06,"n":150},{"c":"ALU_umary","x":0.06,"x2":0.07,"n":130},{"c":"ALU_umary","x":0.07,"x2":0.08,"n":115},{"c":"ALU_umary","x":0.08,"x2":0.09,"n":102},{"c":"ALU_umary","x":0.09,"x2":0.1,"n":92},
{"c":"ALU_umary","x":0.1,"x2":0.12,"n":86},{"c":"ALU_umary","x":0.12,"x2":0.14,"n":79},{"c":"ALU_umary","x":0.14,"x2":0.16,"n":73},{"c":"ALU_umary","x":0.16,"x2":0.18,"n":67},{"c":"ALU_umary","x":0.18,"x2":0.2,"n":62},{"c":"ALU_umary","x":0.2,"x2":0.22,"n":57},{"c":"ALU_umary","x":0.22,"x2":0.24,"n":53},{"c":"ALU_umary","x":0.24,"x2":0.26,"n":49},{"c":"ALU_umary","x":0.26,"x2":0.28,"n":46},{"c":"ALU_umary","x":0.28,"x2":0.3,"n":43},
{"c":"ALU_umary","x":0.3,"x2":0.35,"n":40},{"c":"ALU_umary","x":0.35,"x2":0.4,"n":35},{"c":"ALU_umary","x":0.4,"x2":0.45,"n":30},{"c":"ALU_umary","x":0.45,"x2":0.5,"n":25},{"c":"ALU_umary","x":0.5,"x2":0.55,"n":20},{"c":"ALU_umary","x":0.55,"x2":0.6,"n":14},{"c":"ALU_umary","x":0.61,"x2":0.62,"n":5},{"c":"ALU_umary","x":0.65,"x2":0.66,"n":5},
{"c":"L1_umary","x":0,"x2":0.01,"n":150},{"c":"L1_umary","x":0.01,"x2":0.02,"n":30},{"c":"L1_umary","x":0.02,"x2":0.03,"n":15},{"c":"L1_umary","x":0.03,"x2":0.04,"n":8},
{"c":"SVA_umary","x":0,"x2":0.01,"n":50},{"c":"SVA_umary","x":0.01,"x2":0.02,"n":10},{"c":"SVA_umary","x":0.02,"x2":0.03,"n":5},{"c":"SVA_umary","x":0.03,"x2":0.04,"n":3}],
"cSASh":[
{"c":"ALU_umary","x":0,"x2":0.01,"n":880},{"c":"ALU_umary","x":0.01,"x2":0.02,"n":390},{"c":"ALU_umary","x":0.02,"x2":0.03,"n":290},{"c":"ALU_umary","x":0.03,"x2":0.04,"n":229},{"c":"ALU_umary","x":0.04,"x2":0.05,"n":198},{"c":"ALU_umary","x":0.05,"x2":0.06,"n":170},{"c":"ALU_umary","x":0.06,"x2":0.07,"n":150},{"c":"ALU_umary","x":0.07,"x2":0.08,"n":134},{"c":"ALU_umary","x":0.08,"x2":0.09,"n":121},{"c":"ALU_umary","x":0.09,"x2":0.1,"n":111},
{"c":"ALU_umary","x":0.1,"x2":0.12,"n":102},{"c":"ALU_umary","x":0.12,"x2":0.14,"n":95},{"c":"ALU_umary","x":0.14,"x2":0.16,"n":88},{"c":"ALU_umary","x":0.16,"x2":0.18,"n":82},{"c":"ALU_umary","x":0.18,"x2":0.2,"n":76},{"c":"ALU_umary","x":0.2,"x2":0.22,"n":71},{"c":"ALU_umary","x":0.22,"x2":0.24,"n":66},{"c":"ALU_umary","x":0.24,"x2":0.26,"n":62},{"c":"ALU_umary","x":0.26,"x2":0.28,"n":58},{"c":"ALU_umary","x":0.28,"x2":0.3,"n":54},
{"c":"ALU_umary","x":0.3,"x2":0.35,"n":50},{"c":"ALU_umary","x":0.35,"x2":0.4,"n":44},{"c":"ALU_umary","x":0.4,"x2":0.45,"n":38},{"c":"ALU_umary","x":0.45,"x2":0.5,"n":32},{"c":"ALU_umary","x":0.5,"x2":0.55,"n":25},{"c":"ALU_umary","x":0.55,"x2":0.6,"n":18},{"c":"ALU_umary","x":0.6,"x2":0.65,"n":10},{"c":"ALU_umary","x":0.66,"x2":0.67,"n":5},
{"c":"L1_umary","x":0,"x2":0.01,"n":120},{"c":"L1_umary","x":0.01,"x2":0.02,"n":30},{"c":"L1_umary","x":0.02,"x2":0.03,"n":15},{"c":"L1_umary","x":0.03,"x2":0.04,"n":8},
{"c":"SVA_umary","x":0,"x2":0.01,"n":50},{"c":"SVA_umary","x":0.01,"x2":0.02,"n":10},{"c":"SVA_umary","x":0.02,"x2":0.03,"n":5},{"c":"SVA_umary","x":0.03,"x2":0.04,"n":3}],
"dAFRl":[{"c":"CINV_delly","x":0.05,"y":0.79},{"c":"CINV_delly","x":0.15,"y":0.84},{"c":"CINV_delly","x":0.25,"y":0.75},{"c":"CINV_delly","x":0.35,"y":0.85},{"c":"INV_delly","x":0.05,"y":0.82},{"c":"INV_delly","x":0.15,"y":0.82}],
"dAMRl":[{"c":"CINV_delly","x":0.05,"y":0.74},{"c":"CINV_delly","x":0.15,"y":0.76},{"c":"CINV_delly","x":0.25,"y":0.85},{"c":"CINV_delly","x":0.35,"y":0.75},{"c":"CINV_delly","x":0.45,"y":0.69},{"c":"INV_delly","x":0.05,"y":0.78},{"c":"INV_delly","x":0.15,"y":0.86}],
"dEASl":[{"c":"CINV_delly","x":0.05,"y":0.62},{"c":"CINV_delly","x":0.15,"y":0.88},{"c":"CINV_delly","x":0.25,"y":0.79},{"c":"CINV_delly","x":0.35,"y":0.82},{"c":"CINV_delly","x":0.55,"y":0.66},{"c":"INV_delly","x":0.05,"y":0.72},{"c":"INV_delly","x":0.35,"y":0.83}],
"dEURl":[{"c":"CINV_delly","x":0.05,"y":0.67},{"c":"CINV_delly","x":0.15,"y":0.78},{"c":"CINV_delly","x":0.25,"y":0.81},{"c":"CINV_delly","x":0.35,"y":0.73},{"c":"CINV_delly","x":0.55,"y":0.65},{"c":"INV_delly","x":0.05,"y":0.76}],
"dSASl":[{"c":"CINV_delly","x":0.05,"y":0.7},{"c":"CINV_delly","x":0.15,"y":0.8},{"c":"CINV_delly","x":0.25,"y":0.83},{"c":"CINV_delly","x":0.35,"y":0.73},{"c":"CINV_delly","x":0.45,"y":0.76},{"c":"INV_delly","x":0.05,"y":0.75}],
"dAFRh":[{"c":"CINV_delly","x":0,"x2":0.1,"n":113},{"c":"INV_delly","x":0,"x2":0.1,"n":32},{"c":"CINV_delly","x":0.1,"x2":0.2,"n":25},{"c":"INV_delly","x":0.1,"x2":0.2,"n":7},{"c":"CINV_delly","x":0.2,"x2":0.3,"n":15},{"c":"CINV_delly","x":0.3,"x2":0.4,"n":10}],
"dAMRh":[{"c":"CINV_delly","x":0,"x2":0.1,"n":120},{"c":"INV_delly","x":0,"x2":0.1,"n":30},{"c":"CINV_delly","x":0.1,"x2":0.2,"n":13},{"c":"INV_delly","x":0.1,"x2":0.2,"n":5},{"c":"CINV_delly","x":0.2,"x2":0.3,"n":12},{"c":"CINV_delly","x":0.3,"x2":0.4,"n":7},{"c":"CINV_delly","x":0.4,"x2":0.5,"n":5}],
"dEASh":[{"c":"CINV_delly","x":0,"x2":0.1,"n":76},{"c":"INV_delly","x":0,"x2":0.1,"n":24},{"c":"CINV_delly","x":0.1,"x2":0.2,"n":5},{"c":"CINV_delly","x":0.2,"x2":0.3,"n":12},{"c":"CINV_delly","x":0.3,"x2":0.4,"n":7},{"c":"INV_delly","x":0.3,"x2":0.4,"n":5},{"c":"CINV_delly","x":0.5,"x2":0.6,"n":7}],
"dEURh":[{"c":"CINV_delly","x":0,"x2":0.1,"n":77},{"c":"INV_delly","x":0,"x2":0.1,"n":18},{"c":"CINV_delly","x":0.1,"x2":0.2,"n":11},{"c":"CINV_delly","x":0.2,"x2":0.3,"n":10},{"c":"CINV_delly","x":0.3,"x2":0.4,"n":5},{"c":"CINV_delly","x":0.5,"x2":0.6,"n":4}],
"dSASh":[{"c":"CINV_delly","x":0,"x2":0.1,"n":76},{"c":"INV_delly","x":0,"x2":0.1,"n":24},{"c":"CINV_delly","x":0.1,"x2":0.2,"n":22},{"c":"CINV_delly","x":0.2,"x2":0.3,"n":10},{"c":"CINV_delly","x":0.3,"x2":0.4,"n":8},{"c":"CINV_delly","x":0.4,"x2":0.5,"n":7}]
},
"spacing":11.6,
"resolve":{"scale":{"color":"independent"},"legend":{"color":"independent"}},
"vconcat":[
{"title":{"text":"a","anchor":"start","fontSize":16,"fontWeight":"bold","dx":-53.7,"offset":2,"frame":"bounds"},"spacing":15.65,"resolve":{"scale":{"color":"independent"},"legend":{"color":"independent"}},"vconcat":[
{"hconcat":[
{"title":"AFR","data":{"name":"aAFRl"},"mark":"line","encoding":{"x":{"field":"x","type":"quantitative","scale":{"domain":[-0.05,1.05],"nice":false,"zero":false},"axis":{"values":[0,0.25,0.5,0.75,1],"format":".2f","title":null,"grid":true}},"y":{"field":"y","type":"quantitative","scale":{"domain":[-0.05,1.05],"nice":false,"zero":false},"axis":{"values":[0,0.25,0.5,0.75,1],"format":".2f","title":"mean(max(r^2))","grid":true}},"color":{"field":"c","type":"nominal","scale":{"domain":["DEL_union","DEL_pindel","DUP_uwash"],"range":["#E0766D","#62AD4A","#6F8FD9"]},"legend":null}}},
{"title":"AMR","data":{"name":"aAMRl"},"mark":"line","encoding":{"x":{"field":"x","type":"quantitative","scale":{"domain":[-0.05,1.05],"nice":false,"zero":false},"axis":{"values":[0,0.25,0.5,0.75,1],"format":".2f","title":null,"grid":true}},"y":{"field":"y","type":"quantitative","scale":{"domain":[-0.05,1.05],"nice":false,"zero":false},"axis":{"values":[0,0.25,0.5,0.75,1],"format":".2f","title":null,"grid":true}},"color":{"field":"c","type":"nominal","scale":{"domain":["DEL_union","DEL_pindel","DUP_uwash"],"range":["#E0766D","#62AD4A","#6F8FD9"]},"legend":null}}},
{"title":"EAS","data":{"name":"aEASl"},"mark":"line","encoding":{"x":{"field":"x","type":"quantitative","scale":{"domain":[-0.05,1.05],"nice":false,"zero":false},"axis":{"values":[0,0.25,0.5,0.75,1],"format":".2f","title":null,"grid":true}},"y":{"field":"y","type":"quantitative","scale":{"domain":[-0.05,1.05],"nice":false,"zero":false},"axis":{"values":[0,0.25,0.5,0.75,1],"format":".2f","title":null,"grid":true}},"color":{"field":"c","type":"nominal","scale":{"domain":["DEL_union","DEL_pindel","DUP_uwash"],"range":["#E0766D","#62AD4A","#6F8FD9"]},"legend":null}}},
{"title":"EUR","data":{"name":"aEURl"},"mark":"line","encoding":{"x":{"field":"x","type":"quantitative","scale":{"domain":[-0.05,1.05],"nice":false,"zero":false},"axis":{"values":[0,0.25,0.5,0.75,1],"format":".2f","title":null,"grid":true}},"y":{"field":"y","type":"quantitative","scale":{"domain":[-0.05,1.05],"nice":false,"zero":false},"axis":{"values":[0,0.25,0.5,0.75,1],"format":".2f","title":null,"grid":true}},"color":{"field":"c","type":"nominal","scale":{"domain":["DEL_union","DEL_pindel","DUP_uwash"],"range":["#E0766D","#62AD4A","#6F8FD9"]},"legend":null}}},
{"title":"SAS","data":{"name":"aSASl"},"mark":"line","encoding":{"x":{"field":"x","type":"quantitative","scale":{"domain":[-0.05,1.05],"nice":false,"zero":false},"axis":{"values":[0,0.25,0.5,0.75,1],"format":".2f","title":null,"grid":true}},"y":{"field":"y","type":"quantitative","scale":{"domain":[-0.05,1.05],"nice":false,"zero":false},"axis":{"values":[0,0.25,0.5,0.75,1],"format":".2f","title":null,"grid":true}},"color":{"field":"c","type":"nominal","scale":{"domain":["DEL_union","DEL_pindel","DUP_uwash"],"range":["#E0766D","#62AD4A","#6F8FD9"]},"legend":null}}}
],"spacing":28.5,"bounds":"flush","resolve":{"scale":{"color":"independent"},"legend":{"color":"independent"}}},
{"hconcat":[
{"height":60.5,"data":{"name":"aAFRh"},"mark":{"type":"bar","strokeWidth":0.55},"encoding":{"x":{"field":"x","bin":"binned","type":"quantitative","scale":{"domain":[-0.05,1.05],"nice":false,"zero":false},"axis":{"values":[0,0.25,0.5,0.75,1],"format":".2f","title":"Variant allele frequency"}},"x2":{"field":"x2"},"y":{"field":"n","type":"quantitative","stack":"zero","scale":{"domain":[-140,2940],"nice":false,"zero":false},"axis":{"values":[0,1000,2000],"format":"d","title":"#SV sites"}},"color":{"field":"c","type":"nominal","scale":{"domain":["DEL_union","DEL_pindel","DUP_uwash"],"range":["#E0766D","#62AD4A","#6F8FD9"]},"legend":{"title":"Callset"}},"order":{"field":"c","type":"ordinal","sort":"ascending"}}},
{"height":60.5,"data":{"name":"aAMRh"},"mark":{"type":"bar","strokeWidth":0.55},"encoding":{"x":{"field":"x","bin":"binned","type":"quantitative","scale":{"domain":[-0.05,1.05],"nice":false,"zero":false},"axis":{"values":[0,0.25,0.5,0.75,1],"format":".2f","title":"Variant allele frequency"}},"x2":{"field":"x2"},"y":{"field":"n","type":"quantitative","stack":"zero","scale":{"domain":[-185,3885],"nice":false,"zero":false},"axis":{"values":[0,1000,2000,3000],"format":"d","title":null}},"color":{"field":"c","type":"nominal","scale":{"domain":["DEL_union","DEL_pindel","DUP_uwash"],"range":["#E0766D","#62AD4A","#6F8FD9"]},"legend":{"title":"Callset"}},"order":{"field":"c","type":"ordinal","sort":"ascending"}}},
{"height":60.5,"data":{"name":"aEASh"},"mark":{"type":"bar","strokeWidth":0.55},"encoding":{"x":{"field":"x","bin":"binned","type":"quantitative","scale":{"domain":[-0.05,1.05],"nice":false,"zero":false},"axis":{"values":[0,0.25,0.5,0.75,1],"format":".2f","title":"Variant allele frequency"}},"x2":{"field":"x2"},"y":{"field":"n","type":"quantitative","stack":"zero","scale":{"domain":[-82.5,1732.5],"nice":false,"zero":false},"axis":{"values":[0,500,1000,1500],"format":"d","title":null}},"color":{"field":"c","type":"nominal","scale":{"domain":["DEL_union","DEL_pindel","DUP_uwash"],"range":["#E0766D","#62AD4A","#6F8FD9"]},"legend":{"title":"Callset"}},"order":{"field":"c","type":"ordinal","sort":"ascending"}}},
{"height":60.5,"data":{"name":"aEURh"},"mark":{"type":"bar","strokeWidth":0.55},"encoding":{"x":{"field":"x","bin":"binned","type":"quantitative","scale":{"domain":[-0.05,1.05],"nice":false,"zero":false},"axis":{"values":[0,0.25,0.5,0.75,1],"format":".2f","title":"Variant allele frequency"}},"x2":{"field":"x2"},"y":{"field":"n","type":"quantitative","stack":"zero","scale":{"domain":[-120,2520],"nice":false,"zero":false},"axis":{"values":[0,500,1000,1500,2000,2500],"format":"d","title":null}},"color":{"field":"c","type":"nominal","scale":{"domain":["DEL_union","DEL_pindel","DUP_uwash"],"range":["#E0766D","#62AD4A","#6F8FD9"]},"legend":{"title":"Callset"}},"order":{"field":"c","type":"ordinal","sort":"ascending"}}},
{"height":60.5,"data":{"name":"aSASh"},"mark":{"type":"bar","strokeWidth":0.55},"encoding":{"x":{"field":"x","bin":"binned","type":"quantitative","scale":{"domain":[-0.05,1.05],"nice":false,"zero":false},"axis":{"values":[0,0.25,0.5,0.75,1],"format":".2f","title":"Variant allele frequency"}},"x2":{"field":"x2"},"y":{"field":"n","type":"quantitative","stack":"zero","scale":{"domain":[-105,2205],"nice":false,"zero":false},"axis":{"values":[0,500,1000,1500,2000],"format":"d","title":null}},"color":{"field":"c","type":"nominal","scale":{"domain":["DEL_union","DEL_pindel","DUP_uwash"],"range":["#E0766D","#62AD4A","#6F8FD9"]},"legend":{"title":"Callset"}},"order":{"field":"c","type":"ordinal","sort":"ascending"}}}
],"spacing":28.5,"bounds":"flush","resolve":{"scale":{"color":"independent"},"legend":{"color":"independent"}}}]},
{"title":{"text":"b","anchor":"start","fontSize":16,"fontWeight":"bold","dx":-53.7,"offset":2,"frame":"bounds"},"spacing":16.3,"resolve":{"scale":{"color":"independent"},"legend":{"color":"independent"}},"vconcat":[
{"hconcat":[
{"title":"AFR","data":{"name":"bAFRl"},"mark":{"type":"line","point":true},"encoding":{"x":{"field":"x","type":"quantitative","scale":{"domain":[-0.05,1.05],"nice":false,"zero":false},"axis":{"values":[0,0.25,0.5,0.75,1],"format":".2f","title":null,"grid":true}},"y":{"field":"y","type":"quantitative","scale":{"domain":[-0.05,1.05],"nice":false,"zero":false},"axis":{"values":[0,0.25,0.5,0.75,1],"format":".2f","title":"mean(max(r^2))","grid":true}},"color":{"field":"c","type":"nominal","scale":{"domain":["DUP_gs","DUP_delly","DUP_uwash"],"range":["#E0766D","#62AD4A","#6F8FD9"]},"legend":null}}},
{"title":"AMR","data":{"name":"bAMRl"},"mark":{"type":"line","point":true},"encoding":{"x":{"field":"x","type":"quantitative","scale":{"domain":[-0.05,1.05],"nice":false,"zero":false},"axis":{"values":[0,0.25,0.5,0.75,1],"format":".2f","title":null,"grid":true}},"y":{"field":"y","type":"quantitative","scale":{"domain":[-0.05,1.05],"nice":false,"zero":false},"axis":{"values":[0,0.25,0.5,0.75,1],"format":".2f","title":null,"grid":true}},"color":{"field":"c","type":"nominal","scale":{"domain":["DUP_gs","DUP_delly","DUP_uwash"],"range":["#E0766D","#62AD4A","#6F8FD9"]},"legend":null}}},
{"title":"EAS","data":{"name":"bEASl"},"mark":{"type":"line","point":true},"encoding":{"x":{"field":"x","type":"quantitative","scale":{"domain":[-0.05,1.05],"nice":false,"zero":false},"axis":{"values":[0,0.25,0.5,0.75,1],"format":".2f","title":null,"grid":true}},"y":{"field":"y","type":"quantitative","scale":{"domain":[-0.05,1.05],"nice":false,"zero":false},"axis":{"values":[0,0.25,0.5,0.75,1],"format":".2f","title":null,"grid":true}},"color":{"field":"c","type":"nominal","scale":{"domain":["DUP_gs","DUP_delly","DUP_uwash"],"range":["#E0766D","#62AD4A","#6F8FD9"]},"legend":null}}},
{"title":"EUR","data":{"name":"bEURl"},"mark":{"type":"line","point":true},"encoding":{"x":{"field":"x","type":"quantitative","scale":{"domain":[-0.05,1.05],"nice":false,"zero":false},"axis":{"values":[0,0.25,0.5,0.75,1],"format":".2f","title":null,"grid":true}},"y":{"field":"y","type":"quantitative","scale":{"domain":[-0.05,1.05],"nice":false,"zero":false},"axis":{"values":[0,0.25,0.5,0.75,1],"format":".2f","title":null,"grid":true}},"color":{"field":"c","type":"nominal","scale":{"domain":["DUP_gs","DUP_delly","DUP_uwash"],"range":["#E0766D","#62AD4A","#6F8FD9"]},"legend":null}}},
{"title":"SAS","data":{"name":"bSASl"},"mark":{"type":"line","point":true},"encoding":{"x":{"field":"x","type":"quantitative","scale":{"domain":[-0.05,1.05],"nice":false,"zero":false},"axis":{"values":[0,0.25,0.5,0.75,1],"format":".2f","title":null,"grid":true}},"y":{"field":"y","type":"quantitative","scale":{"domain":[-0.05,1.05],"nice":false,"zero":false},"axis":{"values":[0,0.25,0.5,0.75,1],"format":".2f","title":null,"grid":true}},"color":{"field":"c","type":"nominal","scale":{"domain":["DUP_gs","DUP_delly","DUP_uwash"],"range":["#E0766D","#62AD4A","#6F8FD9"]},"legend":null}}}
],"spacing":28.5,"bounds":"flush","resolve":{"scale":{"color":"independent"},"legend":{"color":"independent"}}},
{"hconcat":[
{"height":60.5,"data":{"name":"bAFRh"},"mark":"bar","encoding":{"x":{"field":"x","bin":"binned","type":"quantitative","scale":{"domain":[-0.05,1.05],"nice":false,"zero":false},"axis":{"values":[0,0.25,0.5,0.75,1],"format":".2f","title":"Variant allele frequency"}},"x2":{"field":"x2"},"y":{"field":"n","type":"quantitative","stack":"zero","scale":{"domain":[-21.5,451.5],"nice":false,"zero":false},"axis":{"values":[0,100,200,300,400],"format":"d","title":"#SV sites"}},"color":{"field":"c","type":"nominal","scale":{"domain":["DUP_gs","DUP_delly","DUP_uwash"],"range":["#E0766D","#62AD4A","#6F8FD9"]},"legend":{"title":"Callset"}},"order":{"field":"c","type":"ordinal","sort":"ascending"}}},
{"height":60.5,"data":{"name":"bAMRh"},"mark":"bar","encoding":{"x":{"field":"x","bin":"binned","type":"quantitative","scale":{"domain":[-0.05,1.05],"nice":false,"zero":false},"axis":{"values":[0,0.25,0.5,0.75,1],"format":".2f","title":"Variant allele frequency"}},"x2":{"field":"x2"},"y":{"field":"n","type":"quantitative","stack":"zero","scale":{"domain":[-18.75,393.75],"nice":false,"zero":false},"axis":{"values":[0,100,200,300],"format":"d","title":null}},"color":{"field":"c","type":"nominal","scale":{"domain":["DUP_gs","DUP_delly","DUP_uwash"],"range":["#E0766D","#62AD4A","#6F8FD9"]},"legend":{"title":"Callset"}},"order":{"field":"c","type":"ordinal","sort":"ascending"}}},
{"height":60.5,"data":{"name":"bEASh"},"mark":"bar","encoding":{"x":{"field":"x","bin":"binned","type":"quantitative","scale":{"domain":[-0.05,1.05],"nice":false,"zero":false},"axis":{"values":[0,0.25,0.5,0.75,1],"format":".2f","title":"Variant allele frequency"}},"x2":{"field":"x2"},"y":{"field":"n","type":"quantitative","stack":"zero","scale":{"domain":[-16.5,346.5],"nice":false,"zero":false},"axis":{"values":[0,100,200,300],"format":"d","title":null}},"color":{"field":"c","type":"nominal","scale":{"domain":["DUP_gs","DUP_delly","DUP_uwash"],"range":["#E0766D","#62AD4A","#6F8FD9"]},"legend":{"title":"Callset"}},"order":{"field":"c","type":"ordinal","sort":"ascending"}}},
{"height":60.5,"data":{"name":"bEURh"},"mark":"bar","encoding":{"x":{"field":"x","bin":"binned","type":"quantitative","scale":{"domain":[-0.05,1.05],"nice":false,"zero":false},"axis":{"values":[0,0.25,0.5,0.75,1],"format":".2f","title":"Variant allele frequency"}},"x2":{"field":"x2"},"y":{"field":"n","type":"quantitative","stack":"zero","scale":{"domain":[-20.25,425.25],"nice":false,"zero":false},"axis":{"values":[0,100,200,300,400],"format":"d","title":null}},"color":{"field":"c","type":"nominal","scale":{"domain":["DUP_gs","DUP_delly","DUP_uwash"],"range":["#E0766D","#62AD4A","#6F8FD9"]},"legend":{"title":"Callset"}},"order":{"field":"c","type":"ordinal","sort":"ascending"}}},
{"height":60.5,"data":{"name":"bSASh"},"mark":"bar","encoding":{"x":{"field":"x","bin":"binned","type":"quantitative","scale":{"domain":[-0.05,1.05],"nice":false,"zero":false},"axis":{"values":[0,0.25,0.5,0.75,1],"format":".2f","title":"Variant allele frequency"}},"x2":{"field":"x2"},"y":{"field":"n","type":"quantitative","stack":"zero","scale":{"domain":[-19,399],"nice":false,"zero":false},"axis":{"values":[0,100,200,300],"format":"d","title":null}},"color":{"field":"c","type":"nominal","scale":{"domain":["DUP_gs","DUP_delly","DUP_uwash"],"range":["#E0766D","#62AD4A","#6F8FD9"]},"legend":{"title":"Callset"}},"order":{"field":"c","type":"ordinal","sort":"ascending"}}}
],"spacing":28.5,"bounds":"flush","resolve":{"scale":{"color":"independent"},"legend":{"color":"independent"}}}]},
{"title":{"text":"c","anchor":"start","fontSize":16,"fontWeight":"bold","dx":-53.7,"offset":2,"frame":"bounds"},"spacing":16.3,"resolve":{"scale":{"color":"independent"},"legend":{"color":"independent"}},"vconcat":[
{"hconcat":[
{"title":"AFR","data":{"name":"cAFRl"},"mark":"line","encoding":{"x":{"field":"x","type":"quantitative","scale":{"domain":[-0.05,1.05],"nice":false,"zero":false},"axis":{"values":[0,0.25,0.5,0.75,1],"format":".2f","title":null,"grid":true}},"y":{"field":"y","type":"quantitative","scale":{"domain":[-0.05,1.05],"nice":false,"zero":false},"axis":{"values":[0,0.25,0.5,0.75,1],"format":".2f","title":"mean(max(r^2))","grid":true}},"color":{"field":"c","type":"nominal","scale":{"domain":["ALU_umary","L1_umary","SVA_umary"],"range":["#E0766D","#62AD4A","#6F8FD9"]},"legend":null}}},
{"title":"AMR","data":{"name":"cAMRl"},"mark":"line","encoding":{"x":{"field":"x","type":"quantitative","scale":{"domain":[-0.05,1.05],"nice":false,"zero":false},"axis":{"values":[0,0.25,0.5,0.75,1],"format":".2f","title":null,"grid":true}},"y":{"field":"y","type":"quantitative","scale":{"domain":[-0.05,1.05],"nice":false,"zero":false},"axis":{"values":[0,0.25,0.5,0.75,1],"format":".2f","title":null,"grid":true}},"color":{"field":"c","type":"nominal","scale":{"domain":["ALU_umary","L1_umary","SVA_umary"],"range":["#E0766D","#62AD4A","#6F8FD9"]},"legend":null}}},
{"title":"EAS","data":{"name":"cEASl"},"mark":"line","encoding":{"x":{"field":"x","type":"quantitative","scale":{"domain":[-0.05,1.05],"nice":false,"zero":false},"axis":{"values":[0,0.25,0.5,0.75,1],"format":".2f","title":null,"grid":true}},"y":{"field":"y","type":"quantitative","scale":{"domain":[-0.05,1.05],"nice":false,"zero":false},"axis":{"values":[0,0.25,0.5,0.75,1],"format":".2f","title":null,"grid":true}},"color":{"field":"c","type":"nominal","scale":{"domain":["ALU_umary","L1_umary","SVA_umary"],"range":["#E0766D","#62AD4A","#6F8FD9"]},"legend":null}}},
{"title":"EUR","data":{"name":"cEURl"},"mark":"line","encoding":{"x":{"field":"x","type":"quantitative","scale":{"domain":[-0.05,1.05],"nice":false,"zero":false},"axis":{"values":[0,0.25,0.5,0.75,1],"format":".2f","title":null,"grid":true}},"y":{"field":"y","type":"quantitative","scale":{"domain":[-0.05,1.05],"nice":false,"zero":false},"axis":{"values":[0,0.25,0.5,0.75,1],"format":".2f","title":null,"grid":true}},"color":{"field":"c","type":"nominal","scale":{"domain":["ALU_umary","L1_umary","SVA_umary"],"range":["#E0766D","#62AD4A","#6F8FD9"]},"legend":null}}},
{"title":"SAS","data":{"name":"cSASl"},"mark":"line","encoding":{"x":{"field":"x","type":"quantitative","scale":{"domain":[-0.05,1.05],"nice":false,"zero":false},"axis":{"values":[0,0.25,0.5,0.75,1],"format":".2f","title":null,"grid":true}},"y":{"field":"y","type":"quantitative","scale":{"domain":[-0.05,1.05],"nice":false,"zero":false},"axis":{"values":[0,0.25,0.5,0.75,1],"format":".2f","title":null,"grid":true}},"color":{"field":"c","type":"nominal","scale":{"domain":["ALU_umary","L1_umary","SVA_umary"],"range":["#E0766D","#62AD4A","#6F8FD9"]},"legend":null}}}
],"spacing":28.5,"bounds":"flush","resolve":{"scale":{"color":"independent"},"legend":{"color":"independent"}}},
{"hconcat":[
{"height":60.5,"data":{"name":"cAFRh"},"mark":{"type":"bar","strokeWidth":0.55},"encoding":{"x":{"field":"x","bin":"binned","type":"quantitative","scale":{"domain":[-0.05,1.05],"nice":false,"zero":false},"axis":{"values":[0,0.25,0.5,0.75,1],"format":".2f","title":"Variant allele frequency"}},"x2":{"field":"x2"},"y":{"field":"n","type":"quantitative","stack":"zero","scale":{"domain":[-77.5,1627.5],"nice":false,"zero":false},"axis":{"values":[0,500,1000,1500],"format":"d","title":"#SV sites"}},"color":{"field":"c","type":"nominal","scale":{"domain":["ALU_umary","L1_umary","SVA_umary"],"range":["#E0766D","#62AD4A","#6F8FD9"]},"legend":{"title":"Callset"}},"order":{"field":"c","type":"ordinal","sort":"ascending"}}},
{"height":60.5,"data":{"name":"cAMRh"},"mark":{"type":"bar","strokeWidth":0.55},"encoding":{"x":{"field":"x","bin":"binned","type":"quantitative","scale":{"domain":[-0.05,1.05],"nice":false,"zero":false},"axis":{"values":[0,0.25,0.5,0.75,1],"format":".2f","title":"Variant allele frequency"}},"x2":{"field":"x2"},"y":{"field":"n","type":"quantitative","stack":"zero","scale":{"domain":[-140,2940],"nice":false,"zero":false},"axis":{"values":[0,1000,2000],"format":"d","title":null}},"color":{"field":"c","type":"nominal","scale":{"domain":["ALU_umary","L1_umary","SVA_umary"],"range":["#E0766D","#62AD4A","#6F8FD9"]},"legend":{"title":"Callset"}},"order":{"field":"c","type":"ordinal","sort":"ascending"}}},
{"height":60.5,"data":{"name":"cEASh"},"mark":{"type":"bar","strokeWidth":0.55},"encoding":{"x":{"field":"x","bin":"binned","type":"quantitative","scale":{"domain":[-0.05,1.05],"nice":false,"zero":false},"axis":{"values":[0,0.25,0.5,0.75,1],"format":".2f","title":"Variant allele frequency"}},"x2":{"field":"x2"},"y":{"field":"n","type":"quantitative","stack":"zero","scale":{"domain":[-36,756],"nice":false,"zero":false},"axis":{"values":[0,200,400,600],"format":"d","title":null}},"color":{"field":"c","type":"nominal","scale":{"domain":["ALU_umary","L1_umary","SVA_umary"],"range":["#E0766D","#62AD4A","#6F8FD9"]},"legend":{"title":"Callset"}},"order":{"field":"c","type":"ordinal","sort":"ascending"}}},
{"height":60.5,"data":{"name":"cEURh"},"mark":{"type":"bar","strokeWidth":0.55},"encoding":{"x":{"field":"x","bin":"binned","type":"quantitative","scale":{"domain":[-0.05,1.05],"nice":false,"zero":false},"axis":{"values":[0,0.25,0.5,0.75,1],"format":".2f","title":"Variant allele frequency"}},"x2":{"field":"x2"},"y":{"field":"n","type":"quantitative","stack":"zero","scale":{"domain":[-67.5,1417.5],"nice":false,"zero":false},"axis":{"values":[0,500,1000],"format":"d","title":null}},"color":{"field":"c","type":"nominal","scale":{"domain":["ALU_umary","L1_umary","SVA_umary"],"range":["#E0766D","#62AD4A","#6F8FD9"]},"legend":{"title":"Callset"}},"order":{"field":"c","type":"ordinal","sort":"ascending"}}},
{"height":60.5,"data":{"name":"cSASh"},"mark":{"type":"bar","strokeWidth":0.55},"encoding":{"x":{"field":"x","bin":"binned","type":"quantitative","scale":{"domain":[-0.05,1.05],"nice":false,"zero":false},"axis":{"values":[0,0.25,0.5,0.75,1],"format":".2f","title":"Variant allele frequency"}},"x2":{"field":"x2"},"y":{"field":"n","type":"quantitative","stack":"zero","scale":{"domain":[-52.5,1102.5],"nice":false,"zero":false},"axis":{"values":[0,250,500,750,1000],"format":"d","title":null}},"color":{"field":"c","type":"nominal","scale":{"domain":["ALU_umary","L1_umary","SVA_umary"],"range":["#E0766D","#62AD4A","#6F8FD9"]},"legend":{"title":"Callset"}},"order":{"field":"c","type":"ordinal","sort":"ascending"}}}
],"spacing":28.5,"bounds":"flush","resolve":{"scale":{"color":"independent"},"legend":{"color":"independent"}}}]},
{"title":{"text":"d","anchor":"start","fontSize":16,"fontWeight":"bold","dx":-53.7,"offset":2,"frame":"bounds"},"spacing":16.05,"resolve":{"scale":{"color":"independent"},"legend":{"color":"independent"}},"vconcat":[
{"hconcat":[
{"title":"AFR","data":{"name":"dAFRl"},"mark":{"type":"line","point":true},"encoding":{"x":{"field":"x","type":"quantitative","scale":{"domain":[-0.05,1.05],"nice":false,"zero":false},"axis":{"values":[0,0.25,0.5,0.75,1],"format":".2f","title":null,"grid":true}},"y":{"field":"y","type":"quantitative","scale":{"domain":[-0.05,1.05],"nice":false,"zero":false},"axis":{"values":[0,0.25,0.5,0.75,1],"format":".2f","title":"mean(max(r^2))","grid":true}},"color":{"field":"c","type":"nominal","scale":{"domain":["CINV_delly","INV_delly"],"range":["#E0766D","#62AD4A"]},"legend":null}}},
{"title":"AMR","data":{"name":"dAMRl"},"mark":{"type":"line","point":true},"encoding":{"x":{"field":"x","type":"quantitative","scale":{"domain":[-0.05,1.05],"nice":false,"zero":false},"axis":{"values":[0,0.25,0.5,0.75,1],"format":".2f","title":null,"grid":true}},"y":{"field":"y","type":"quantitative","scale":{"domain":[-0.05,1.05],"nice":false,"zero":false},"axis":{"values":[0,0.25,0.5,0.75,1],"format":".2f","title":null,"grid":true}},"color":{"field":"c","type":"nominal","scale":{"domain":["CINV_delly","INV_delly"],"range":["#E0766D","#62AD4A"]},"legend":null}}},
{"title":"EAS","data":{"name":"dEASl"},"mark":{"type":"line","point":true},"encoding":{"x":{"field":"x","type":"quantitative","scale":{"domain":[-0.05,1.05],"nice":false,"zero":false},"axis":{"values":[0,0.25,0.5,0.75,1],"format":".2f","title":null,"grid":true}},"y":{"field":"y","type":"quantitative","scale":{"domain":[-0.05,1.05],"nice":false,"zero":false},"axis":{"values":[0,0.25,0.5,0.75,1],"format":".2f","title":null,"grid":true}},"color":{"field":"c","type":"nominal","scale":{"domain":["CINV_delly","INV_delly"],"range":["#E0766D","#62AD4A"]},"legend":null}}},
{"title":"EUR","data":{"name":"dEURl"},"mark":{"type":"line","point":true},"encoding":{"x":{"field":"x","type":"quantitative","scale":{"domain":[-0.05,1.05],"nice":false,"zero":false},"axis":{"values":[0,0.25,0.5,0.75,1],"format":".2f","title":null,"grid":true}},"y":{"field":"y","type":"quantitative","scale":{"domain":[-0.05,1.05],"nice":false,"zero":false},"axis":{"values":[0,0.25,0.5,0.75,1],"format":".2f","title":null,"grid":true}},"color":{"field":"c","type":"nominal","scale":{"domain":["CINV_delly","INV_delly"],"range":["#E0766D","#62AD4A"]},"legend":null}}},
{"title":"SAS","data":{"name":"dSASl"},"mark":{"type":"line","point":true},"encoding":{"x":{"field":"x","type":"quantitative","scale":{"domain":[-0.05,1.05],"nice":false,"zero":false},"axis":{"values":[0,0.25,0.5,0.75,1],"format":".2f","title":null,"grid":true}},"y":{"field":"y","type":"quantitative","scale":{"domain":[-0.05,1.05],"nice":false,"zero":false},"axis":{"values":[0,0.25,0.5,0.75,1],"format":".2f","title":null,"grid":true}},"color":{"field":"c","type":"nominal","scale":{"domain":["CINV_delly","INV_delly"],"range":["#E0766D","#62AD4A"]},"legend":null}}}
],"spacing":28.5,"bounds":"flush","resolve":{"scale":{"color":"independent"},"legend":{"color":"independent"}}},
{"hconcat":[
{"height":60.5,"data":{"name":"dAFRh"},"mark":"bar","encoding":{"x":{"field":"x","bin":"binned","type":"quantitative","scale":{"domain":[-0.05,1.05],"nice":false,"zero":false},"axis":{"values":[0,0.25,0.5,0.75,1],"format":".2f","title":"Variant allele frequency"}},"x2":{"field":"x2"},"y":{"field":"n","type":"quantitative","stack":"zero","scale":{"domain":[-7.25,152.25],"nice":false,"zero":false},"axis":{"values":[0,50,100,150],"format":"d","title":"#SV sites"}},"color":{"field":"c","type":"nominal","scale":{"domain":["CINV_delly","INV_delly"],"range":["#E0766D","#62AD4A"]},"legend":{"title":"Callset"}},"order":{"field":"c","type":"ordinal","sort":"ascending"}}},
{"height":60.5,"data":{"name":"dAMRh"},"mark":"bar","encoding":{"x":{"field":"x","bin":"binned","type":"quantitative","scale":{"domain":[-0.05,1.05],"nice":false,"zero":false},"axis":{"values":[0,0.25,0.5,0.75,1],"format":".2f","title":"Variant allele frequency"}},"x2":{"field":"x2"},"y":{"field":"n","type":"quantitative","stack":"zero","scale":{"domain":[-7.5,157.5],"nice":false,"zero":false},"axis":{"values":[0,50,100,150],"format":"d","title":null}},"color":{"field":"c","type":"nominal","scale":{"domain":["CINV_delly","INV_delly"],"range":["#E0766D","#62AD4A"]},"legend":{"title":"Callset"}},"order":{"field":"c","type":"ordinal","sort":"ascending"}}},
{"height":60.5,"data":{"name":"dEASh"},"mark":"bar","encoding":{"x":{"field":"x","bin":"binned","type":"quantitative","scale":{"domain":[-0.05,1.05],"nice":false,"zero":false},"axis":{"values":[0,0.25,0.5,0.75,1],"format":".2f","title":"Variant allele frequency"}},"x2":{"field":"x2"},"y":{"field":"n","type":"quantitative","stack":"zero","scale":{"domain":[-5,105],"nice":false,"zero":false},"axis":{"values":[0,25,50,75,100],"format":"d","title":null}},"color":{"field":"c","type":"nominal","scale":{"domain":["CINV_delly","INV_delly"],"range":["#E0766D","#62AD4A"]},"legend":{"title":"Callset"}},"order":{"field":"c","type":"ordinal","sort":"ascending"}}},
{"height":60.5,"data":{"name":"dEURh"},"mark":"bar","encoding":{"x":{"field":"x","bin":"binned","type":"quantitative","scale":{"domain":[-0.05,1.05],"nice":false,"zero":false},"axis":{"values":[0,0.25,0.5,0.75,1],"format":".2f","title":"Variant allele frequency"}},"x2":{"field":"x2"},"y":{"field":"n","type":"quantitative","stack":"zero","scale":{"domain":[-4.75,99.75],"nice":false,"zero":false},"axis":{"values":[0,20,40,60,80],"format":"d","title":null}},"color":{"field":"c","type":"nominal","scale":{"domain":["CINV_delly","INV_delly"],"range":["#E0766D","#62AD4A"]},"legend":{"title":"Callset"}},"order":{"field":"c","type":"ordinal","sort":"ascending"}}},
{"height":60.5,"data":{"name":"dSASh"},"mark":"bar","encoding":{"x":{"field":"x","bin":"binned","type":"quantitative","scale":{"domain":[-0.05,1.05],"nice":false,"zero":false},"axis":{"values":[0,0.25,0.5,0.75,1],"format":".2f","title":"Variant allele frequency"}},"x2":{"field":"x2"},"y":{"field":"n","type":"quantitative","stack":"zero","scale":{"domain":[-5,105],"nice":false,"zero":false},"axis":{"values":[0,25,50,75,100],"format":"d","title":null}},"color":{"field":"c","type":"nominal","scale":{"domain":["CINV_delly","INV_delly"],"range":["#E0766D","#62AD4A"]},"legend":{"title":"Callset"}},"order":{"field":"c","type":"ordinal","sort":"ascending"}}}
],"spacing":28.5,"bounds":"flush","resolve":{"scale":{"color":"independent"},"legend":{"color":"independent"}}}]}
]
}
